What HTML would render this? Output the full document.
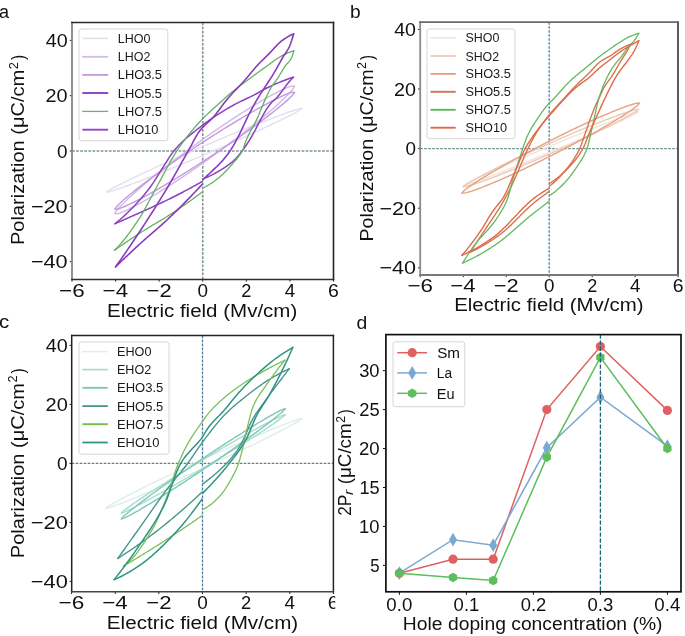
<!DOCTYPE html>
<html><head><meta charset="utf-8"><style>html,body{margin:0;padding:0;background:#fff;overflow:hidden}svg{display:block;filter:blur(0.4px)}text{font-family:"Liberation Sans",sans-serif}</style></head>
<body>
<svg width="685" height="636" viewBox="0 0 685 636" font-family="Liberation Sans, sans-serif">
<rect width="685" height="636" fill="#fff"/>
<line x1="72" y1="151" x2="333.5" y2="151" stroke="#7d9693" stroke-width="1.5" stroke-dasharray="2.7 1.4"/>
<line x1="202.75" y1="22.5" x2="202.75" y2="279.4" stroke="#7d9693" stroke-width="1.6" stroke-dasharray="2.7 1.4"/>
<polyline points="106.44,192.2 108.92,190.4 111.39,188.97 113.87,187.62 116.35,186.31 118.82,185.03 121.3,183.77 123.78,182.53 126.25,181.3 128.73,180.09 131.21,178.88 133.68,177.69 136.16,176.5 138.64,175.32 141.11,174.15 143.59,172.99 146.07,171.83 148.55,170.67 151.02,169.53 153.5,168.38 155.98,167.25 158.45,166.11 160.93,164.99 163.41,163.86 165.88,162.74 168.36,161.63 170.84,160.52 173.31,159.41 175.79,158.31 178.27,157.21 180.74,156.11 183.22,155.02 185.7,153.93 188.18,152.85 190.65,151.77 193.13,150.69 195.61,149.62 198.08,148.55 200.56,147.48 203.04,146.42 205.51,145.35 207.99,144.3 210.47,143.24 212.94,142.19 215.42,141.15 217.9,140.1 220.38,139.06 222.85,138.03 225.33,136.99 227.81,135.97 230.28,134.94 232.76,133.92 235.24,132.9 237.71,131.89 240.19,130.88 242.67,129.87 245.14,128.87 247.62,127.87 250.1,126.88 252.57,125.89 255.05,124.9 257.53,123.92 260.01,122.95 262.48,121.98 264.96,121.02 267.44,120.06 269.91,119.12 272.39,118.17 274.87,117.24 277.34,116.31 279.82,115.4 282.3,114.49 284.77,113.6 287.25,112.72 289.73,111.86 292.2,111.02 294.68,110.21 297.16,109.44 299.64,108.75 302.11,108.42" fill="none" stroke="#e6deef" stroke-width="1.4" stroke-linejoin="round" stroke-linecap="round"/>
<polyline points="106.44,192.2 108.92,191.87 111.39,191.18 113.87,190.41 116.35,189.6 118.82,188.76 121.3,187.9 123.78,187.02 126.25,186.13 128.73,185.22 131.21,184.3 133.68,183.38 136.16,182.44 138.64,181.5 141.11,180.55 143.59,179.6 146.07,178.63 148.55,177.67 151.02,176.69 153.5,175.71 155.98,174.73 158.45,173.74 160.93,172.75 163.41,171.75 165.88,170.75 168.36,169.74 170.84,168.73 173.31,167.72 175.79,166.7 178.27,165.68 180.74,164.65 183.22,163.62 185.7,162.59 188.18,161.55 190.65,160.51 193.13,159.47 195.61,158.42 198.08,157.37 200.56,156.32 203.04,155.26 205.51,154.2 207.99,153.14 210.47,152.07 212.94,151 215.42,149.93 217.9,148.85 220.38,147.77 222.85,146.68 225.33,145.59 227.81,144.5 230.28,143.41 232.76,142.31 235.24,141.21 237.71,140.1 240.19,138.99 242.67,137.87 245.14,136.75 247.62,135.63 250.1,134.5 252.57,133.37 255.05,132.23 257.53,131.09 260.01,129.94 262.48,128.79 264.96,127.63 267.44,126.47 269.91,125.3 272.39,124.12 274.87,122.93 277.34,121.74 279.82,120.53 282.3,119.32 284.77,118.09 287.25,116.85 289.73,115.59 292.2,114.31 294.68,113 297.16,111.64 299.64,110.21 302.11,108.42" fill="none" stroke="#e6deef" stroke-width="1.4" stroke-linejoin="round" stroke-linecap="round"/>
<polyline points="114.94,213.49 117.21,209.91 119.48,207.31 121.75,204.91 124.03,202.63 126.3,200.43 128.57,198.28 130.85,196.18 133.12,194.12 135.39,192.1 137.66,190.1 139.94,188.13 142.21,186.18 144.48,184.25 146.76,182.35 149.03,180.45 151.3,178.58 153.57,176.72 155.85,174.88 158.12,173.05 160.39,171.23 162.66,169.43 164.94,167.64 167.21,165.86 169.48,164.09 171.76,162.34 174.03,160.59 176.3,158.86 178.57,157.13 180.85,155.42 183.12,153.72 185.39,152.02 187.67,150.34 189.94,148.66 192.21,147 194.48,145.34 196.76,143.7 199.03,142.06 201.3,140.43 203.57,138.81 205.85,137.2 208.12,135.6 210.39,134.01 212.67,132.43 214.94,130.85 217.21,129.29 219.48,127.73 221.76,126.19 224.03,124.65 226.3,123.13 228.58,121.61 230.85,120.1 233.12,118.61 235.39,117.12 237.67,115.65 239.94,114.18 242.21,112.73 244.48,111.29 246.76,109.86 249.03,108.44 251.3,107.04 253.58,105.65 255.85,104.27 258.12,102.91 260.39,101.56 262.67,100.24 264.94,98.92 267.21,97.63 269.49,96.36 271.76,95.11 274.03,93.89 276.3,92.69 278.58,91.53 280.85,90.41 283.12,89.34 285.39,88.32 287.67,87.38 289.94,86.56 292.21,85.94 294.49,86.3" fill="none" stroke="#d2b8e6" stroke-width="1.4" stroke-linejoin="round" stroke-linecap="round"/>
<polyline points="114.94,213.49 117.21,213.85 119.48,213.23 121.75,212.41 124.03,211.47 126.3,210.45 128.57,209.38 130.85,208.25 133.12,207.09 135.39,205.9 137.66,204.68 139.94,203.43 142.21,202.16 144.48,200.86 146.76,199.55 149.03,198.22 151.3,196.88 153.57,195.52 155.85,194.14 158.12,192.75 160.39,191.34 162.66,189.93 164.94,188.5 167.21,187.06 169.48,185.6 171.76,184.14 174.03,182.66 176.3,181.18 178.57,179.68 180.85,178.18 183.12,176.66 185.39,175.14 187.67,173.6 189.94,172.05 192.21,170.5 194.48,168.94 196.76,167.36 199.03,165.78 201.3,164.19 203.57,162.59 205.85,160.98 208.12,159.36 210.39,157.73 212.67,156.09 214.94,154.45 217.21,152.79 219.48,151.12 221.76,149.45 224.03,147.77 226.3,146.07 228.58,144.37 230.85,142.65 233.12,140.93 235.39,139.19 237.67,137.45 239.94,135.69 242.21,133.93 244.48,132.15 246.76,130.36 249.03,128.55 251.3,126.74 253.58,124.91 255.85,123.07 258.12,121.21 260.39,119.33 262.67,117.44 264.94,115.53 267.21,113.61 269.49,111.66 271.76,109.69 274.03,107.69 276.3,105.66 278.58,103.6 280.85,101.51 283.12,99.36 285.39,97.16 287.67,94.88 289.94,92.48 292.21,89.88 294.49,86.3" fill="none" stroke="#d2b8e6" stroke-width="1.4" stroke-linejoin="round" stroke-linecap="round"/>
<polyline points="114.94,209.06 117.21,205.98 119.48,203.7 121.75,201.58 124.03,199.56 126.3,197.6 128.57,195.69 130.85,193.81 133.12,191.97 135.39,190.16 137.66,188.36 139.94,186.59 142.21,184.84 144.48,183.1 146.76,181.38 149.03,179.68 151.3,177.99 153.57,176.31 155.85,174.64 158.12,172.99 160.39,171.34 162.66,169.71 164.94,168.08 167.21,166.47 169.48,164.86 171.76,163.27 174.03,161.68 176.3,160.1 178.57,158.53 180.85,156.97 183.12,155.42 185.39,153.87 187.67,152.33 189.94,150.8 192.21,149.28 194.48,147.77 196.76,146.26 199.03,144.76 201.3,143.27 203.57,141.79 205.85,140.31 208.12,138.84 210.39,137.38 212.67,135.92 214.94,134.48 217.21,133.04 219.48,131.6 221.76,130.18 224.03,128.76 226.3,127.35 228.58,125.95 230.85,124.56 233.12,123.18 235.39,121.8 237.67,120.43 239.94,119.08 242.21,117.73 244.48,116.39 246.76,115.06 249.03,113.74 251.3,112.43 253.58,111.13 255.85,109.84 258.12,108.57 260.39,107.31 262.67,106.06 264.94,104.82 267.21,103.6 269.49,102.4 271.76,101.22 274.03,100.06 276.3,98.92 278.58,97.81 280.85,96.73 283.12,95.69 285.39,94.69 287.67,93.76 289.94,92.92 292.21,92.26 294.49,92.38" fill="none" stroke="#c39ade" stroke-width="1.4" stroke-linejoin="round" stroke-linecap="round"/>
<polyline points="114.94,209.06 117.21,209.19 119.48,208.52 121.75,207.69 124.03,206.76 126.3,205.76 128.57,204.72 130.85,203.64 133.12,202.53 135.39,201.39 137.66,200.23 139.94,199.04 142.21,197.84 144.48,196.62 146.76,195.39 149.03,194.14 151.3,192.88 153.57,191.6 155.85,190.32 158.12,189.02 160.39,187.71 162.66,186.39 164.94,185.06 167.21,183.72 169.48,182.37 171.76,181.01 174.03,179.65 176.3,178.27 178.57,176.89 180.85,175.49 183.12,174.09 185.39,172.68 187.67,171.27 189.94,169.84 192.21,168.41 194.48,166.97 196.76,165.52 199.03,164.07 201.3,162.61 203.57,161.14 205.85,159.66 208.12,158.18 210.39,156.69 212.67,155.19 214.94,153.68 217.21,152.16 219.48,150.64 221.76,149.11 224.03,147.58 226.3,146.03 228.58,144.48 230.85,142.91 233.12,141.34 235.39,139.77 237.67,138.18 239.94,136.58 242.21,134.98 244.48,133.36 246.76,131.74 249.03,130.11 251.3,128.46 253.58,126.81 255.85,125.14 258.12,123.46 260.39,121.77 262.67,120.06 264.94,118.34 267.21,116.61 269.49,114.85 271.76,113.08 274.03,111.29 276.3,109.48 278.58,107.63 280.85,105.76 283.12,103.85 285.39,101.89 287.67,99.87 289.94,97.75 292.21,95.46 294.49,92.38" fill="none" stroke="#c39ade" stroke-width="1.4" stroke-linejoin="round" stroke-linecap="round"/>
<polyline points="114.94,223.72 116.94,222.14 118.95,220.48 120.95,218.77 122.96,216.99 124.96,215.15 126.97,213.26 128.97,211.31 130.98,209.31 132.98,207.27 134.99,205.19 136.99,203.05 139,200.84 141,198.56 143.01,196.21 145.01,193.78 147.02,191.27 149.02,188.67 151.03,185.99 153.03,183.17 155.04,180.12 157.04,176.92 159.05,173.65 161.06,170.38 163.06,167.2 165.07,164.09 167.07,160.88 169.08,157.69 171.08,154.63 173.09,151.82 175.09,149.38 177.1,147.15 179.1,145.03 181.11,143.03 183.11,141.12 185.12,139.29 187.12,137.53 189.13,135.84 191.13,134.19 193.14,132.57 195.14,130.98 197.15,129.4 199.15,127.82 201.16,126.25 203.16,124.7 205.17,123.2 207.17,121.73 209.18,120.29 211.18,118.89 213.19,117.52 215.19,116.18 217.2,114.86 219.21,113.57 221.21,112.31 223.22,111.07 225.22,109.85 227.23,108.67 229.23,107.51 231.24,106.37 233.24,105.27 235.25,104.19 237.25,103.16 239.26,102.15 241.26,101.17 243.27,100.2 245.27,99.24 247.28,98.27 249.28,97.31 251.29,96.33 253.29,95.33 255.3,94.3 257.3,93.23 259.31,92.11 261.31,90.97 263.32,89.85 265.32,88.75 267.33,87.72 269.33,86.77 271.34,85.84 273.34,84.93 275.35,84.04 277.36,83.17 279.36,82.33 281.37,81.5 283.37,80.71 285.38,79.94 287.38,79.2 289.39,78.49 291.39,77.81 293.4,77.17" fill="none" stroke="#8c40c0" stroke-width="1.5" stroke-linejoin="round" stroke-linecap="round"/>
<polyline points="114.94,223.72 115.92,223.29 116.9,222.86 117.88,222.43 118.86,222 119.85,221.57 120.83,221.14 121.81,220.71 122.79,220.28 123.77,219.85 124.75,219.41 125.74,218.98 126.72,218.55 127.7,218.11 128.68,217.68 129.66,217.24 130.64,216.8 131.63,216.37 132.61,215.93 133.59,215.49 134.57,215.06 135.55,214.62 136.54,214.18 137.52,213.74 138.5,213.3 139.48,212.87 140.46,212.43 141.44,211.99 142.43,211.55 143.41,211.12 144.39,210.68 145.37,210.24 146.35,209.8 147.33,209.35 148.32,208.91 149.3,208.47 150.28,208.02 151.26,207.57 152.24,207.12 153.23,206.67 154.21,206.22 155.19,205.76 156.17,205.3 157.15,204.84 158.13,204.38 159.12,203.92 160.1,203.45 161.08,202.98 162.06,202.52 163.04,202.05 164.03,201.57 165.01,201.1 165.99,200.63 166.97,200.15 167.95,199.67 168.93,199.19 169.92,198.71 170.9,198.22 171.88,197.74 172.86,197.25 173.84,196.76 174.82,196.26 175.81,195.77 176.79,195.27 177.77,194.77 178.75,194.26 179.73,193.75 180.72,193.24 181.7,192.73 182.68,192.22 183.66,191.7 184.64,191.18 185.62,190.66 186.61,190.13 187.59,189.61 188.57,189.08 189.55,188.55 190.53,188.01 191.51,187.47 192.5,186.94 193.48,186.39 194.46,185.85 195.44,185.3 196.42,184.76 197.41,184.2 198.39,183.65 199.37,183.1 200.35,182.54 201.33,181.98 202.31,181.41" fill="none" stroke="#8c40c0" stroke-width="1.5" stroke-linejoin="round" stroke-linecap="round"/>
<polyline points="203.4,178.65 204.41,178.27 205.43,177.88 206.44,177.46 207.45,177.03 208.46,176.58 209.47,176.11 210.48,175.62 211.49,175.12 212.5,174.61 213.52,174.08 214.53,173.54 215.54,172.98 216.55,172.41 217.56,171.84 218.57,171.25 219.58,170.65 220.59,170.04 221.6,169.43 222.62,168.8 223.63,168.17 224.64,167.53 225.65,166.86 226.66,166.17 227.67,165.46 228.68,164.73 229.69,163.96 230.7,163.17 231.72,162.35 232.73,161.49 233.74,160.6 234.75,159.67 235.76,158.68 236.77,157.61 237.78,156.48 238.79,155.29 239.81,154.05 240.82,152.78 241.83,151.47 242.84,150.14 243.85,148.74 244.86,147.27 245.87,145.76 246.88,144.22 247.89,142.64 248.91,141.04 249.92,139.43 250.93,137.76 251.94,136.02 252.95,134.22 253.96,132.37 254.97,130.48 255.98,128.57 256.99,126.63 258.01,124.68 259.02,122.73 260.03,120.8 261.04,118.88 262.05,116.99 263.06,115.15 264.07,113.35 265.08,111.62 266.1,109.95 267.11,108.37 268.12,106.88 269.13,105.48 270.14,104.2 271.15,103.05 272.16,102.01 273.17,101.05 274.18,100.12 275.2,99.19 276.21,98.21 277.22,97.14 278.23,95.98 279.24,94.74 280.25,93.44 281.26,92.1 282.27,90.74 283.28,89.35 284.3,87.97 285.31,86.61 286.32,85.28 287.33,83.99 288.34,82.76 289.35,81.58 290.36,80.44 291.37,79.33 292.39,78.24 293.4,77.17" fill="none" stroke="#8c40c0" stroke-width="1.5" stroke-linejoin="round" stroke-linecap="round"/>
<polyline points="114.5,250.26 116.52,248.24 118.53,246.11 120.55,243.85 122.56,241.5 124.58,239.04 126.59,236.48 128.61,233.84 130.62,231.11 132.64,228.31 134.65,225.43 136.67,222.49 138.68,219.48 140.7,216.28 142.71,212.87 144.72,209.29 146.74,205.59 148.75,201.81 150.77,197.98 152.78,194.16 154.8,190.39 156.81,186.71 158.83,183.06 160.84,179.32 162.86,175.54 164.87,171.75 166.89,167.98 168.9,164.26 170.92,160.64 172.93,157.14 174.95,153.8 176.96,150.65 178.98,147.7 180.99,144.83 183.01,142.06 185.02,139.37 187.04,136.76 189.05,134.22 191.07,131.76 193.08,129.36 195.1,127.03 197.11,124.76 199.13,122.54 201.14,120.39 203.16,118.31 205.17,116.3 207.19,114.35 209.2,112.46 211.22,110.6 213.23,108.77 215.25,106.96 217.26,105.16 219.28,103.35 221.29,101.53 223.31,99.69 225.32,97.85 227.34,96.05 229.35,94.3 231.37,92.62 233.38,90.98 235.4,89.38 237.41,87.8 239.43,86.25 241.44,84.72 243.46,83.2 245.47,81.68 247.49,80.16 249.5,78.65 251.52,77.15 253.53,75.66 255.55,74.18 257.56,72.71 259.58,71.25 261.59,69.8 263.61,68.36 265.62,66.93 267.64,65.49 269.65,64.01 271.67,62.51 273.68,61.02 275.7,59.58 277.71,58.21 279.73,56.95 281.74,55.82 283.76,54.8 285.77,53.82 287.79,52.91 289.8,52.07 291.82,51.31 293.83,50.63" fill="none" stroke="#66b066" stroke-width="1.3" stroke-linejoin="round" stroke-linecap="round"/>
<polyline points="114.5,250.26 115.49,249.56 116.47,248.86 117.46,248.16 118.45,247.47 119.43,246.78 120.42,246.09 121.41,245.41 122.39,244.73 123.38,244.05 124.37,243.38 125.35,242.7 126.34,242.03 127.33,241.37 128.31,240.7 129.3,240.04 130.29,239.39 131.27,238.73 132.26,238.08 133.25,237.43 134.23,236.78 135.22,236.14 136.21,235.49 137.19,234.85 138.18,234.22 139.17,233.58 140.15,232.95 141.14,232.32 142.13,231.69 143.11,231.06 144.1,230.44 145.09,229.82 146.07,229.2 147.06,228.58 148.05,227.96 149.03,227.35 150.02,226.74 151.01,226.13 151.99,225.52 152.98,224.93 153.97,224.35 154.95,223.77 155.94,223.2 156.93,222.64 157.91,222.07 158.9,221.51 159.89,220.93 160.87,220.36 161.86,219.77 162.85,219.17 163.83,218.55 164.82,217.93 165.81,217.31 166.79,216.68 167.78,216.05 168.77,215.42 169.75,214.78 170.74,214.15 171.73,213.51 172.71,212.86 173.7,212.22 174.69,211.57 175.67,210.91 176.66,210.26 177.65,209.6 178.63,208.94 179.62,208.27 180.61,207.6 181.59,206.93 182.58,206.25 183.57,205.57 184.55,204.89 185.54,204.2 186.53,203.51 187.51,202.82 188.5,202.12 189.49,201.42 190.47,200.71 191.46,200.01 192.45,199.29 193.43,198.57 194.42,197.85 195.41,197.13 196.39,196.4 197.38,195.66 198.37,194.92 199.35,194.18 200.34,193.43 201.33,192.68 202.31,191.92" fill="none" stroke="#66b066" stroke-width="1.3" stroke-linejoin="round" stroke-linecap="round"/>
<polyline points="204.06,187.5 205.07,186.99 206.07,186.46 207.08,185.9 208.09,185.31 209.1,184.7 210.11,184.06 211.12,183.4 212.13,182.71 213.14,182.01 214.14,181.28 215.15,180.54 216.16,179.78 217.17,179 218.18,178.2 219.19,177.39 220.2,176.54 221.21,175.65 222.21,174.73 223.22,173.78 224.23,172.8 225.24,171.79 226.25,170.75 227.26,169.68 228.27,168.6 229.28,167.49 230.28,166.37 231.29,165.22 232.3,164.07 233.31,162.91 234.32,161.77 235.33,160.63 236.34,159.47 237.34,158.26 238.35,156.98 239.36,155.59 240.37,154.09 241.38,152.44 242.39,150.61 243.4,148.18 244.41,145.28 245.41,142.32 246.42,139.72 247.43,137.47 248.44,135.35 249.45,133.33 250.46,131.4 251.47,129.51 252.48,127.65 253.48,125.79 254.49,123.89 255.5,121.93 256.51,119.89 257.52,117.73 258.53,115.44 259.54,113.05 260.54,110.59 261.55,108.11 262.56,105.64 263.57,103.21 264.58,100.87 265.59,98.64 266.6,96.45 267.61,94.29 268.61,92.21 269.62,90.24 270.63,88.41 271.64,86.75 272.65,85.22 273.66,83.78 274.67,82.39 275.68,81.02 276.68,79.63 277.69,78.18 278.7,76.64 279.71,75 280.72,73.28 281.73,71.54 282.74,69.82 283.75,68.16 284.75,66.6 285.76,65.23 286.77,64.05 287.78,62.96 288.79,61.84 289.8,60.59 290.81,59.08 291.81,57.2 292.82,54.26 293.83,50.63" fill="none" stroke="#66b066" stroke-width="1.3" stroke-linejoin="round" stroke-linecap="round"/>
<polyline points="115.59,266.85 117.59,264.04 119.59,261.21 121.59,258.36 123.59,255.48 125.59,252.59 127.59,249.67 129.59,246.73 131.59,243.77 133.59,240.8 135.59,237.8 137.59,234.79 139.59,231.77 141.59,228.72 143.59,225.66 145.59,222.58 147.59,219.49 149.59,216.38 151.59,213.25 153.6,210.09 155.6,206.9 157.6,203.7 159.6,200.46 161.6,197.2 163.6,193.91 165.6,190.59 167.6,187.24 169.6,183.86 171.6,180.42 173.6,176.93 175.6,173.4 177.6,169.84 179.6,166.27 181.6,162.69 183.6,159.11 185.6,155.55 187.6,152.01 189.6,148.48 191.6,144.77 193.6,140.98 195.6,137.3 197.6,133.9 199.6,130.95 201.6,128.52 203.6,126.41 205.6,124.51 207.6,122.71 209.6,120.91 211.6,118.98 213.6,116.82 215.6,114.42 217.6,111.85 219.6,109.18 221.6,106.47 223.6,103.78 225.61,101.17 227.61,98.72 229.61,96.42 231.61,94.21 233.61,92.07 235.61,89.97 237.61,87.88 239.61,85.8 241.61,83.68 243.61,81.52 245.61,79.27 247.61,76.93 249.61,74.51 251.61,72.07 253.61,69.66 255.61,67.32 257.61,65.11 259.61,63.02 261.61,61.01 263.61,59.06 265.61,57.12 267.61,55.17 269.61,53.14 271.61,50.99 273.61,48.78 275.61,46.6 277.61,44.51 279.61,42.61 281.61,40.97 283.61,39.52 285.61,38.16 287.61,36.9 289.61,35.76 291.61,34.75 293.61,33.9" fill="none" stroke="#8a3abf" stroke-width="1.6" stroke-linejoin="round" stroke-linecap="round"/>
<polyline points="115.59,266.85 116.56,265.91 117.54,264.97 118.51,264.02 119.49,263.09 120.46,262.15 121.44,261.22 122.41,260.28 123.39,259.35 124.36,258.43 125.33,257.5 126.31,256.58 127.28,255.65 128.26,254.74 129.23,253.82 130.21,252.9 131.18,251.99 132.16,251.08 133.13,250.17 134.1,249.27 135.08,248.36 136.05,247.46 137.03,246.56 138,245.66 138.98,244.77 139.95,243.88 140.93,242.99 141.9,242.1 142.87,241.22 143.85,240.34 144.82,239.47 145.8,238.61 146.77,237.76 147.75,236.91 148.72,236.06 149.7,235.21 150.67,234.37 151.64,233.53 152.62,232.69 153.59,231.86 154.57,231.02 155.54,230.18 156.52,229.33 157.49,228.49 158.46,227.64 159.44,226.78 160.41,225.93 161.39,225.06 162.36,224.19 163.34,223.31 164.31,222.43 165.29,221.53 166.26,220.63 167.23,219.71 168.21,218.79 169.18,217.87 170.16,216.95 171.13,216.02 172.11,215.08 173.08,214.14 174.06,213.2 175.03,212.26 176,211.31 176.98,210.35 177.95,209.4 178.93,208.44 179.9,207.47 180.88,206.5 181.85,205.53 182.83,204.56 183.8,203.57 184.77,202.59 185.75,201.6 186.72,200.61 187.7,199.61 188.67,198.61 189.65,197.61 190.62,196.6 191.6,195.59 192.57,194.57 193.54,193.55 194.52,192.53 195.49,191.5 196.47,190.46 197.44,189.43 198.42,188.39 199.39,187.34 200.37,186.29 201.34,185.24 202.31,184.18" fill="none" stroke="#8a3abf" stroke-width="1.6" stroke-linejoin="round" stroke-linecap="round"/>
<polyline points="203.4,179.2 204.42,178.26 205.43,177.31 206.44,176.37 207.46,175.41 208.47,174.45 209.49,173.49 210.5,172.52 211.51,171.55 212.53,170.6 213.54,169.65 214.55,168.7 215.57,167.75 216.58,166.79 217.59,165.81 218.61,164.81 219.62,163.78 220.63,162.72 221.65,161.61 222.66,160.46 223.68,159.28 224.69,158.06 225.7,156.81 226.72,155.51 227.73,154.17 228.74,152.78 229.76,151.33 230.77,149.83 231.78,148.23 232.8,146.56 233.81,144.82 234.83,143.02 235.84,141.19 236.85,139.33 237.87,137.4 238.88,135.4 239.89,133.34 240.91,131.23 241.92,129.08 242.93,126.92 243.95,124.75 244.96,122.58 245.97,120.44 246.99,118.32 248,116.25 249.02,114.24 250.03,112.3 251.04,110.39 252.06,108.5 253.07,106.63 254.08,104.79 255.1,102.98 256.11,101.2 257.12,99.46 258.14,97.74 259.15,96.06 260.17,94.44 261.18,92.85 262.19,91.29 263.21,89.75 264.22,88.22 265.23,86.68 266.25,85.12 267.26,83.55 268.27,82 269.29,80.45 270.3,78.9 271.32,77.33 272.33,75.74 273.34,74.11 274.36,72.44 275.37,70.7 276.38,68.91 277.4,67.09 278.41,65.24 279.42,63.39 280.44,61.56 281.45,59.74 282.46,57.98 283.48,56.3 284.49,54.77 285.51,53.29 286.52,51.78 287.53,50.17 288.55,48.37 289.56,46.29 290.57,43.77 291.59,40.78 292.6,37.45 293.61,33.9" fill="none" stroke="#8a3abf" stroke-width="1.6" stroke-linejoin="round" stroke-linecap="round"/>
<line x1="72.01" y1="279.4" x2="72.01" y2="281.6" stroke="#222" stroke-width="1"/>
<text x="59.1" y="296.9" font-size="19.03" textLength="25.6" lengthAdjust="spacingAndGlyphs" fill="#111">−6</text>
<line x1="115.59" y1="279.4" x2="115.59" y2="281.6" stroke="#222" stroke-width="1"/>
<text x="102.64" y="296.9" font-size="19.04" textLength="25.46" lengthAdjust="spacingAndGlyphs" fill="#111">−4</text>
<line x1="159.17" y1="279.4" x2="159.17" y2="281.6" stroke="#222" stroke-width="1"/>
<text x="146.64" y="296.9" font-size="19.03" textLength="25.06" lengthAdjust="spacingAndGlyphs" fill="#111">−2</text>
<line x1="202.75" y1="279.4" x2="202.75" y2="281.6" stroke="#222" stroke-width="1"/>
<text x="197.45" y="296.9" font-size="19.03" textLength="10.53" lengthAdjust="spacingAndGlyphs" fill="#111">0</text>
<line x1="246.33" y1="279.4" x2="246.33" y2="281.6" stroke="#222" stroke-width="1"/>
<text x="241.28" y="296.9" font-size="19.03" textLength="10.12" lengthAdjust="spacingAndGlyphs" fill="#111">2</text>
<line x1="289.91" y1="279.4" x2="289.91" y2="281.6" stroke="#222" stroke-width="1"/>
<text x="284.76" y="296.9" font-size="19.04" textLength="10.51" lengthAdjust="spacingAndGlyphs" fill="#111">4</text>
<line x1="333.49" y1="279.4" x2="333.49" y2="281.6" stroke="#222" stroke-width="1"/>
<text x="327.97" y="296.9" font-size="19.03" textLength="10.87" lengthAdjust="spacingAndGlyphs" fill="#111">6</text>
<line x1="69.8" y1="40.4" x2="72" y2="40.4" stroke="#222" stroke-width="1"/>
<text x="45.72" y="47.06" font-size="19.03" textLength="21.92" lengthAdjust="spacingAndGlyphs" fill="#111">40</text>
<line x1="69.8" y1="95.7" x2="72" y2="95.7" stroke="#222" stroke-width="1"/>
<text x="45.57" y="102.36" font-size="19.03" textLength="22.07" lengthAdjust="spacingAndGlyphs" fill="#111">20</text>
<line x1="69.8" y1="151" x2="72" y2="151" stroke="#222" stroke-width="1"/>
<text x="57.05" y="157.66" font-size="19.03" textLength="10.53" lengthAdjust="spacingAndGlyphs" fill="#111">0</text>
<line x1="69.8" y1="206.3" x2="72" y2="206.3" stroke="#222" stroke-width="1"/>
<text x="30.9" y="212.96" font-size="19.03" textLength="36.79" lengthAdjust="spacingAndGlyphs" fill="#111">−20</text>
<line x1="69.8" y1="261.6" x2="72" y2="261.6" stroke="#222" stroke-width="1"/>
<text x="30.9" y="268.26" font-size="19.03" textLength="36.79" lengthAdjust="spacingAndGlyphs" fill="#111">−40</text>
<line x1="72" y1="21.7" x2="72" y2="280.15" stroke="#858585" stroke-width="1.8"/>
<line x1="333.5" y1="21.7" x2="333.5" y2="280.15" stroke="#222" stroke-width="1.6"/>
<line x1="71.1" y1="22.5" x2="334.3" y2="22.5" stroke="#2a2a2a" stroke-width="1.6"/>
<line x1="71.1" y1="279.4" x2="334.3" y2="279.4" stroke="#2e2e2e" stroke-width="1.5"/>
<text x="106.96" y="316.6" font-size="18.87" textLength="190.33" lengthAdjust="spacingAndGlyphs" fill="#111">Electric field (Mv/cm)</text>
<g transform="translate(24,243.5) rotate(-90)" fill="#111"><text style="white-space:pre" x="-1.6" y="0" font-size="18.87" textLength="175.39" lengthAdjust="spacingAndGlyphs">Polarization (μC/cm</text><text style="white-space:pre" x="174.33" y="-6.4" font-size="13.32" textLength="7.12" lengthAdjust="spacingAndGlyphs">2</text><text style="white-space:pre" x="183.45" y="0" font-size="18.87" textLength="5.12" lengthAdjust="spacingAndGlyphs">)</text></g>
<rect x="79" y="29" width="88.8" height="111.7" rx="2.5" fill="#fff" fill-opacity="0.85" stroke="#d6d6d6" stroke-width="1"/>
<line x1="82.3" y1="38.4" x2="108.2" y2="38.4" stroke="#e2dee8" stroke-width="1.5"/>
<text x="117.8" y="42.91" font-size="12.9" textLength="32.76" lengthAdjust="spacingAndGlyphs" fill="#1a1a1a">LHO0</text>
<line x1="82.3" y1="56.8" x2="108.2" y2="56.8" stroke="#d2bce4" stroke-width="1.8"/>
<text x="117.8" y="61.31" font-size="12.9" textLength="32.51" lengthAdjust="spacingAndGlyphs" fill="#1a1a1a">LHO2</text>
<line x1="82.3" y1="74.9" x2="108.2" y2="74.9" stroke="#c49ade" stroke-width="1.8"/>
<text x="117.77" y="79.41" font-size="12.9" textLength="44.26" lengthAdjust="spacingAndGlyphs" fill="#1a1a1a">LHO3.5</text>
<line x1="82.3" y1="93" x2="108.2" y2="93" stroke="#8e40c2" stroke-width="1.9"/>
<text x="117.77" y="97.51" font-size="12.9" textLength="44.26" lengthAdjust="spacingAndGlyphs" fill="#1a1a1a">LHO5.5</text>
<line x1="82.3" y1="111.4" x2="108.2" y2="111.4" stroke="#6cb06c" stroke-width="1.3"/>
<text x="117.77" y="115.91" font-size="12.9" textLength="44.26" lengthAdjust="spacingAndGlyphs" fill="#1a1a1a">LHO7.5</text>
<line x1="82.3" y1="129.7" x2="108.2" y2="129.7" stroke="#9444c6" stroke-width="1.9"/>
<text x="117.78" y="134.21" font-size="12.9" textLength="40.56" lengthAdjust="spacingAndGlyphs" fill="#1a1a1a">LHO10</text>
<line x1="420.2" y1="148.6" x2="678" y2="148.6" stroke="#6a9090" stroke-width="1.4" stroke-dasharray="2.6 1.4"/>
<line x1="549.2" y1="22.2" x2="549.2" y2="275" stroke="#5585a8" stroke-width="1.4" stroke-dasharray="2.6 1.4"/>
<polyline points="463.24,185.85 465.45,184.42 467.67,183.24 469.88,182.1 472.1,181 474.31,179.92 476.53,178.85 478.74,177.79 480.95,176.74 483.17,175.7 485.38,174.67 487.6,173.64 489.81,172.62 492.03,171.61 494.24,170.6 496.45,169.59 498.67,168.59 500.88,167.59 503.1,166.6 505.31,165.61 507.53,164.62 509.74,163.64 511.95,162.66 514.17,161.68 516.38,160.7 518.6,159.73 520.81,158.76 523.03,157.79 525.24,156.83 527.45,155.87 529.67,154.91 531.88,153.95 534.1,153 536.31,152.05 538.53,151.1 540.74,150.15 542.95,149.21 545.17,148.26 547.38,147.32 549.6,146.39 551.81,145.45 554.03,144.52 556.24,143.59 558.45,142.66 560.67,141.73 562.88,140.81 565.1,139.89 567.31,138.97 569.53,138.05 571.74,137.14 573.95,136.22 576.17,135.31 578.38,134.41 580.6,133.5 582.81,132.6 585.03,131.7 587.24,130.81 589.45,129.91 591.67,129.02 593.88,128.14 596.1,127.25 598.31,126.37 600.53,125.49 602.74,124.62 604.95,123.75 607.17,122.89 609.38,122.03 611.6,121.17 613.81,120.32 616.03,119.47 618.24,118.64 620.45,117.8 622.67,116.98 624.88,116.17 627.1,115.37 629.31,114.58 631.53,113.81 633.74,113.07 635.95,112.39 638.17,111.95" fill="none" stroke="#f2e4da" stroke-width="1.4" stroke-linejoin="round" stroke-linecap="round"/>
<polyline points="463.24,185.85 465.45,185.41 467.67,184.72 469.88,183.98 472.1,183.22 474.31,182.43 476.53,181.63 478.74,180.81 480.95,179.99 483.17,179.16 485.38,178.32 487.6,177.48 489.81,176.63 492.03,175.77 494.24,174.91 496.45,174.04 498.67,173.17 500.88,172.3 503.1,171.42 505.31,170.54 507.53,169.66 509.74,168.77 511.95,167.88 514.17,166.99 516.38,166.09 518.6,165.19 520.81,164.29 523.03,163.39 525.24,162.48 527.45,161.57 529.67,160.66 531.88,159.75 534.1,158.83 536.31,157.91 538.53,156.99 540.74,156.06 542.95,155.14 545.17,154.21 547.38,153.28 549.6,152.35 551.81,151.41 554.03,150.47 556.24,149.53 558.45,148.59 560.67,147.65 562.88,146.7 565.1,145.75 567.31,144.8 569.53,143.84 571.74,142.89 573.95,141.93 576.17,140.97 578.38,140 580.6,139.03 582.81,138.07 585.03,137.09 587.24,136.12 589.45,135.14 591.67,134.16 593.88,133.18 596.1,132.19 598.31,131.2 600.53,130.2 602.74,129.21 604.95,128.21 607.17,127.2 609.38,126.19 611.6,125.17 613.81,124.15 616.03,123.13 618.24,122.09 620.45,121.06 622.67,120.01 624.88,118.95 627.1,117.88 629.31,116.8 631.53,115.69 633.74,114.56 635.95,113.38 638.17,111.95" fill="none" stroke="#f2e4da" stroke-width="1.4" stroke-linejoin="round" stroke-linecap="round"/>
<polyline points="463.24,186.74 465.45,184.88 467.67,183.45 469.88,182.12 472.1,180.84 474.31,179.6 476.53,178.38 478.74,177.18 480.95,176 483.17,174.84 485.38,173.69 487.6,172.55 489.81,171.42 492.03,170.3 494.24,169.18 496.45,168.08 498.67,166.99 500.88,165.9 503.1,164.81 505.31,163.74 507.53,162.67 509.74,161.6 511.95,160.55 514.17,159.49 516.38,158.44 518.6,157.4 520.81,156.36 523.03,155.33 525.24,154.3 527.45,153.28 529.67,152.26 531.88,151.24 534.1,150.23 536.31,149.23 538.53,148.23 540.74,147.23 542.95,146.23 545.17,145.24 547.38,144.26 549.6,143.28 551.81,142.3 554.03,141.33 556.24,140.36 558.45,139.39 560.67,138.43 562.88,137.48 565.1,136.53 567.31,135.58 569.53,134.64 571.74,133.7 573.95,132.76 576.17,131.83 578.38,130.91 580.6,129.98 582.81,129.07 585.03,128.16 587.24,127.25 589.45,126.35 591.67,125.46 593.88,124.57 596.1,123.68 598.31,122.8 600.53,121.93 602.74,121.07 604.95,120.21 607.17,119.36 609.38,118.52 611.6,117.68 613.81,116.86 616.03,116.04 618.24,115.24 620.45,114.45 622.67,113.68 624.88,112.92 627.1,112.18 629.31,111.48 631.53,110.8 633.74,110.18 635.95,109.65 638.17,109.56" fill="none" stroke="#eccab6" stroke-width="1.4" stroke-linejoin="round" stroke-linecap="round"/>
<polyline points="463.24,186.74 465.45,186.66 467.67,186.13 469.88,185.5 472.1,184.83 474.31,184.12 476.53,183.39 478.74,182.63 480.95,181.85 483.17,181.06 485.38,180.26 487.6,179.45 489.81,178.62 492.03,177.79 494.24,176.95 496.45,176.1 498.67,175.24 500.88,174.37 503.1,173.5 505.31,172.62 507.53,171.74 509.74,170.85 511.95,169.96 514.17,169.05 516.38,168.15 518.6,167.24 520.81,166.32 523.03,165.4 525.24,164.47 527.45,163.54 529.67,162.61 531.88,161.67 534.1,160.73 536.31,159.78 538.53,158.83 540.74,157.87 542.95,156.91 545.17,155.95 547.38,154.98 549.6,154 551.81,153.03 554.03,152.05 556.24,151.06 558.45,150.07 560.67,149.08 562.88,148.08 565.1,147.08 567.31,146.07 569.53,145.06 571.74,144.05 573.95,143.03 576.17,142 578.38,140.98 580.6,139.94 582.81,138.9 585.03,137.86 587.24,136.81 589.45,135.76 591.67,134.7 593.88,133.64 596.1,132.57 598.31,131.49 600.53,130.41 602.74,129.32 604.95,128.22 607.17,127.12 609.38,126.01 611.6,124.89 613.81,123.76 616.03,122.62 618.24,121.47 620.45,120.3 622.67,119.12 624.88,117.93 627.1,116.71 629.31,115.46 631.53,114.18 633.74,112.85 635.95,111.43 638.17,109.56" fill="none" stroke="#eccab6" stroke-width="1.4" stroke-linejoin="round" stroke-linecap="round"/>
<polyline points="461.95,193 464.2,190.58 466.44,188.8 468.69,187.15 470.94,185.58 473.19,184.06 475.43,182.57 477.68,181.12 479.93,179.69 482.17,178.29 484.42,176.9 486.67,175.53 488.91,174.17 491.16,172.83 493.41,171.5 495.65,170.18 497.9,168.87 500.15,167.58 502.4,166.29 504.64,165.01 506.89,163.74 509.14,162.48 511.38,161.23 513.63,159.98 515.88,158.74 518.12,157.51 520.37,156.29 522.62,155.07 524.86,153.86 527.11,152.66 529.36,151.46 531.61,150.27 533.85,149.09 536.1,147.91 538.35,146.74 540.59,145.57 542.84,144.42 545.09,143.26 547.33,142.11 549.58,140.97 551.83,139.84 554.07,138.71 556.32,137.59 558.57,136.47 560.82,135.36 563.06,134.25 565.31,133.15 567.56,132.06 569.8,130.97 572.05,129.89 574.3,128.82 576.54,127.75 578.79,126.69 581.04,125.63 583.28,124.59 585.53,123.55 587.78,122.51 590.03,121.49 592.27,120.47 594.52,119.46 596.77,118.46 599.01,117.47 601.26,116.48 603.51,115.51 605.75,114.55 608,113.59 610.25,112.65 612.49,111.72 614.74,110.81 616.99,109.91 619.24,109.03 621.48,108.16 623.73,107.32 625.98,106.5 628.22,105.71 630.47,104.96 632.72,104.27 634.96,103.64 637.21,103.16 639.46,103.3" fill="none" stroke="#e8a282" stroke-width="1.4" stroke-linejoin="round" stroke-linecap="round"/>
<polyline points="461.95,193 464.2,193.15 466.44,192.66 468.69,192.04 470.94,191.34 473.19,190.59 475.43,189.8 477.68,188.99 479.93,188.14 482.17,187.28 484.42,186.4 486.67,185.5 488.91,184.58 491.16,183.65 493.41,182.71 495.65,181.76 497.9,180.8 500.15,179.82 502.4,178.84 504.64,177.85 506.89,176.85 509.14,175.84 511.38,174.82 513.63,173.79 515.88,172.76 518.12,171.72 520.37,170.67 522.62,169.62 524.86,168.56 527.11,167.49 529.36,166.42 531.61,165.33 533.85,164.25 536.1,163.15 538.35,162.06 540.59,160.95 542.84,159.84 545.09,158.72 547.33,157.6 549.58,156.47 551.83,155.33 554.07,154.19 556.32,153.04 558.57,151.89 560.82,150.73 563.06,149.57 565.31,148.39 567.56,147.22 569.8,146.03 572.05,144.84 574.3,143.65 576.54,142.44 578.79,141.23 581.04,140.02 583.28,138.79 585.53,137.56 587.78,136.32 590.03,135.08 592.27,133.83 594.52,132.56 596.77,131.3 599.01,130.02 601.26,128.73 603.51,127.43 605.75,126.12 608,124.81 610.25,123.48 612.49,122.13 614.74,120.78 616.99,119.41 619.24,118.02 621.48,116.61 623.73,115.18 625.98,113.73 628.22,112.25 630.47,110.73 632.72,109.15 634.96,107.51 637.21,105.72 639.46,103.3" fill="none" stroke="#e8a282" stroke-width="1.4" stroke-linejoin="round" stroke-linecap="round"/>
<polyline points="470.12,252.3 471.92,249.57 473.72,246.84 475.52,244.1 477.32,241.37 479.12,238.65 480.92,235.92 482.73,233.2 484.53,230.47 486.33,227.75 488.13,225.06 489.93,222.41 491.73,219.77 493.53,217.12 495.33,214.41 497.14,211.64 498.94,208.76 500.74,205.79 502.54,202.75 504.34,199.64 506.14,196.43 507.94,193.1 509.75,189.63 511.55,185.98 513.35,182.07 515.15,177.99 516.95,173.83 518.75,169.69 520.55,165.54 522.35,161.28 524.16,157.01 525.96,152.86 527.76,148.95 529.56,145.27 531.36,141.71 533.16,138.31 534.96,135.1 536.76,132.12 538.57,129.31 540.37,126.64 542.17,124.09 543.97,121.63 545.77,119.26 547.57,116.96 549.37,114.71 551.18,112.54 552.98,110.45 554.78,108.43 556.58,106.46 558.38,104.51 560.18,102.57 561.98,100.62 563.78,98.64 565.59,96.65 567.39,94.67 569.19,92.69 570.99,90.74 572.79,88.82 574.59,86.94 576.39,85.12 578.19,83.34 580,81.6 581.8,79.89 583.6,78.19 585.4,76.49 587.2,74.78 589,73.03 590.8,71.23 592.6,69.28 594.41,67.27 596.21,65.3 598.01,63.5 599.81,61.96 601.61,60.71 603.41,59.62 605.21,58.63 607.02,57.69 608.82,56.71 610.62,55.65 612.42,54.46 614.22,53.18 616.02,51.86 617.82,50.58 619.62,49.39 621.43,48.35 623.23,47.41 625.03,46.52 626.83,45.71 628.63,44.96 630.43,44.3" fill="none" stroke="#d4764e" stroke-width="1.4" stroke-linejoin="round" stroke-linecap="round"/>
<polyline points="470.12,252.3 471,251.91 471.88,251.51 472.77,251.09 473.65,250.67 474.54,250.24 475.42,249.8 476.3,249.35 477.19,248.89 478.07,248.43 478.95,247.96 479.84,247.47 480.72,246.98 481.61,246.49 482.49,245.98 483.37,245.47 484.26,244.95 485.14,244.42 486.02,243.88 486.91,243.34 487.79,242.79 488.68,242.23 489.56,241.67 490.44,241.1 491.33,240.52 492.21,239.94 493.09,239.35 493.98,238.75 494.86,238.15 495.75,237.54 496.63,236.93 497.51,236.31 498.4,235.69 499.28,235.05 500.16,234.4 501.05,233.73 501.93,233.03 502.82,232.32 503.7,231.59 504.58,230.83 505.47,230.07 506.35,229.28 507.23,228.49 508.12,227.68 509,226.85 509.89,226.02 510.77,225.17 511.65,224.32 512.54,223.46 513.42,222.59 514.3,221.71 515.19,220.83 516.07,219.94 516.96,219.06 517.84,218.16 518.72,217.27 519.61,216.38 520.49,215.49 521.37,214.6 522.26,213.72 523.14,212.84 524.03,211.96 524.91,211.1 525.79,210.23 526.68,209.38 527.56,208.54 528.44,207.7 529.33,206.88 530.21,206.07 531.1,205.28 531.98,204.5 532.86,203.73 533.75,202.99 534.63,202.26 535.51,201.54 536.4,200.84 537.28,200.15 538.17,199.46 539.05,198.79 539.93,198.12 540.82,197.46 541.7,196.81 542.58,196.16 543.47,195.53 544.35,194.89 545.24,194.27 546.12,193.64 547,193.03 547.89,192.42 548.77,191.81" fill="none" stroke="#d4764e" stroke-width="1.4" stroke-linejoin="round" stroke-linecap="round"/>
<polyline points="549.63,185.85 550.54,185.23 551.45,184.57 552.35,183.87 553.26,183.14 554.17,182.37 555.08,181.56 555.99,180.73 556.89,179.86 557.8,178.96 558.71,178.04 559.62,177.08 560.52,176.11 561.43,175.1 562.34,174.08 563.25,173.03 564.16,171.97 565.06,170.89 565.97,169.78 566.88,168.67 567.79,167.54 568.7,166.39 569.6,165.21 570.51,163.99 571.42,162.74 572.33,161.44 573.23,160.09 574.14,158.69 575.05,157.23 575.96,155.7 576.87,154.11 577.77,152.44 578.68,150.69 579.59,148.86 580.5,146.84 581.41,144.53 582.31,141.99 583.22,139.32 584.13,136.6 585.04,133.9 585.95,131.32 586.85,128.74 587.76,126.13 588.67,123.51 589.58,120.92 590.48,118.36 591.39,115.88 592.3,113.48 593.21,111.13 594.12,108.85 595.02,106.67 595.93,104.59 596.84,102.62 597.75,100.7 598.66,98.8 599.56,96.88 600.47,94.89 601.38,92.87 602.29,90.89 603.2,89.01 604.1,87.33 605.01,85.81 605.92,84.4 606.83,83.08 607.73,81.81 608.64,80.58 609.55,79.36 610.46,78.12 611.37,76.84 612.27,75.49 613.18,74.06 614.09,72.58 615,71.05 615.91,69.49 616.81,67.91 617.72,66.32 618.63,64.74 619.54,63.17 620.45,61.63 621.35,60.13 622.26,58.69 623.17,57.29 624.08,55.9 624.98,54.5 625.89,53.04 626.8,51.5 627.71,49.84 628.62,48.07 629.52,46.22 630.43,44.3" fill="none" stroke="#d4764e" stroke-width="1.4" stroke-linejoin="round" stroke-linecap="round"/>
<polyline points="462.6,263.03 464.58,259.86 466.56,256.76 468.54,253.74 470.52,250.81 472.5,247.98 474.48,245.25 476.46,242.63 478.44,240.18 480.42,237.89 482.4,235.7 484.38,233.57 486.36,231.44 488.34,229.26 490.31,226.96 492.29,224.5 494.27,221.87 496.25,219.14 498.23,216.25 500.21,213.17 502.19,209.84 504.17,206.23 506.15,202.18 508.13,197.21 510.11,190.01 512.09,182.18 514.07,175.53 516.05,169.25 518.03,163.06 520.01,156.88 521.99,150.87 523.97,145.03 525.95,139.38 527.93,134.83 529.91,130.94 531.89,127.44 533.87,124.21 535.85,121.17 537.83,118.21 539.81,115.27 541.79,112.39 543.77,109.63 545.75,107.03 547.73,104.63 549.71,102.49 551.69,100.71 553.67,98.77 555.65,96.68 557.63,94.5 559.61,92.27 561.59,90.02 563.57,87.79 565.55,85.63 567.53,83.56 569.51,81.63 571.49,79.79 573.47,78.01 575.45,76.28 577.43,74.6 579.41,72.94 581.39,71.32 583.37,69.7 585.35,68.09 587.33,66.48 589.31,64.86 591.29,63.22 593.27,61.57 595.25,59.93 597.23,58.33 599.21,56.76 601.19,55.25 603.17,53.79 605.15,52.35 607.13,50.95 609.11,49.56 611.09,48.17 613.07,46.77 615.05,45.38 617.03,44.02 619.01,42.7 620.99,41.44 622.97,40.24 624.95,39.06 626.93,37.95 628.91,36.95 630.89,36.07 632.87,35.26 634.85,34.52 636.83,33.85 638.81,33.27" fill="none" stroke="#64b864" stroke-width="1.3" stroke-linejoin="round" stroke-linecap="round"/>
<polyline points="462.6,263.03 463.56,262.61 464.53,262.18 465.5,261.74 466.47,261.3 467.44,260.85 468.4,260.39 469.37,259.92 470.34,259.44 471.31,258.96 472.28,258.47 473.25,257.98 474.21,257.48 475.18,256.97 476.15,256.45 477.12,255.93 478.09,255.4 479.06,254.86 480.02,254.32 480.99,253.77 481.96,253.21 482.93,252.65 483.9,252.08 484.87,251.5 485.83,250.92 486.8,250.34 487.77,249.74 488.74,249.14 489.71,248.54 490.67,247.93 491.64,247.31 492.61,246.69 493.58,246.05 494.55,245.41 495.52,244.74 496.48,244.06 497.45,243.37 498.42,242.66 499.39,241.94 500.36,241.21 501.33,240.47 502.29,239.71 503.26,238.95 504.23,238.17 505.2,237.39 506.17,236.59 507.14,235.79 508.1,234.99 509.07,234.17 510.04,233.35 511.01,232.52 511.98,231.69 512.94,230.86 513.91,230.02 514.88,229.18 515.85,228.33 516.82,227.49 517.79,226.64 518.75,225.79 519.72,224.94 520.69,224.1 521.66,223.25 522.63,222.41 523.6,221.57 524.56,220.73 525.53,219.9 526.5,219.07 527.47,218.25 528.44,217.43 529.41,216.62 530.37,215.81 531.34,215.02 532.31,214.23 533.28,213.45 534.25,212.68 535.21,211.92 536.18,211.17 537.15,210.42 538.12,209.67 539.09,208.93 540.06,208.19 541.02,207.45 541.99,206.72 542.96,205.99 543.93,205.26 544.9,204.53 545.87,203.81 546.83,203.09 547.8,202.36 548.77,201.64" fill="none" stroke="#64b864" stroke-width="1.3" stroke-linejoin="round" stroke-linecap="round"/>
<polyline points="549.63,195.39 550.63,194.78 551.63,194.12 552.64,193.43 553.64,192.7 554.64,191.94 555.64,191.14 556.64,190.31 557.65,189.45 558.65,188.57 559.65,187.65 560.65,186.71 561.65,185.75 562.66,184.77 563.66,183.76 564.66,182.74 565.66,181.67 566.66,180.54 567.67,179.37 568.67,178.16 569.67,176.9 570.67,175.6 571.68,174.26 572.68,172.88 573.68,171.47 574.68,170.03 575.68,168.56 576.69,167.07 577.69,165.6 578.69,164.15 579.69,162.69 580.69,161.17 581.7,159.58 582.7,157.89 583.7,156.05 584.7,154.05 585.7,151.85 586.71,149.42 587.71,146.5 588.71,142.61 589.71,138.15 590.71,133.61 591.72,129.3 592.72,124.94 593.72,120.51 594.72,116.04 595.72,111.46 596.73,106.78 597.73,102.63 598.73,98.99 599.73,95.68 600.73,92.69 601.74,89.94 602.74,87.32 603.74,84.83 604.74,82.47 605.75,80.22 606.75,78.09 607.75,76.06 608.75,74.14 609.75,72.31 610.76,70.59 611.76,68.96 612.76,67.41 613.76,65.94 614.76,64.55 615.77,63.27 616.77,62.06 617.77,60.9 618.77,59.74 619.77,58.57 620.78,57.35 621.78,56.04 622.78,54.65 623.78,53.21 624.78,51.75 625.79,50.31 626.79,48.91 627.79,47.59 628.79,46.39 629.79,45.31 630.8,44.3 631.8,43.3 632.8,42.24 633.8,41.08 634.81,39.76 635.81,38.3 636.81,36.72 637.81,35.04 638.81,33.27" fill="none" stroke="#64b864" stroke-width="1.3" stroke-linejoin="round" stroke-linecap="round"/>
<polyline points="461.95,255.28 463.94,253 465.93,250.62 467.91,248.17 469.9,245.64 471.89,243.03 473.87,240.36 475.86,237.63 477.85,234.84 479.84,232 481.82,229.03 483.81,225.86 485.8,222.56 487.78,219.23 489.77,215.96 491.76,212.85 493.75,209.99 495.73,207.42 497.72,205 499.71,202.54 501.7,199.87 503.68,196.81 505.67,193.15 507.66,188.94 509.64,184.35 511.63,179.57 513.62,174.76 515.61,170.1 517.59,165.52 519.58,160.77 521.57,156.08 523.55,151.7 525.54,147.86 527.53,144.44 529.52,141.29 531.5,138.33 533.49,135.51 535.48,132.77 537.47,130.1 539.45,127.54 541.44,125.06 543.43,122.64 545.41,120.27 547.4,117.93 549.39,115.6 551.38,113.28 553.36,111 555.35,108.76 557.34,106.54 559.32,104.36 561.31,102.21 563.3,100.1 565.29,97.98 567.27,95.87 569.26,93.81 571.25,91.8 573.23,89.89 575.22,88.09 577.21,86.43 579.2,84.89 581.18,83.42 583.17,82 585.16,80.57 587.15,79.09 589.13,77.53 591.12,75.83 593.11,73.98 595.09,72.05 597.08,70.12 599.07,68.28 601.06,66.59 603.04,65 605.03,63.46 607.02,61.96 609,60.46 610.99,58.94 612.98,57.39 614.97,55.81 616.95,54.26 618.94,52.75 620.93,51.33 622.92,50.02 624.9,48.77 626.89,47.58 628.88,46.41 630.86,45.24 632.85,44.08 634.84,42.94 636.83,41.82 638.81,40.72" fill="none" stroke="#e0694a" stroke-width="1.4" stroke-linejoin="round" stroke-linecap="round"/>
<polyline points="461.95,255.28 462.93,254.88 463.9,254.46 464.88,254.02 465.85,253.58 466.83,253.13 467.8,252.67 468.78,252.19 469.75,251.71 470.73,251.21 471.71,250.71 472.68,250.19 473.66,249.67 474.63,249.13 475.61,248.59 476.58,248.04 477.56,247.47 478.53,246.9 479.51,246.32 480.49,245.73 481.46,245.14 482.44,244.53 483.41,243.92 484.39,243.29 485.36,242.66 486.34,242.03 487.31,241.38 488.29,240.73 489.26,240.07 490.24,239.4 491.22,238.73 492.19,238.05 493.17,237.36 494.14,236.64 495.12,235.89 496.09,235.12 497.07,234.32 498.04,233.49 499.02,232.64 500,231.77 500.97,230.88 501.95,229.96 502.92,229.04 503.9,228.09 504.87,227.13 505.85,226.15 506.82,225.17 507.8,224.17 508.77,223.16 509.75,222.14 510.73,221.12 511.7,220.09 512.68,219.06 513.65,218.02 514.63,216.99 515.6,215.95 516.58,214.92 517.55,213.89 518.53,212.86 519.51,211.84 520.48,210.82 521.46,209.82 522.43,208.82 523.41,207.83 524.38,206.86 525.36,205.9 526.33,204.96 527.31,204.04 528.28,203.13 529.26,202.24 530.24,201.37 531.21,200.53 532.19,199.71 533.16,198.91 534.14,198.14 535.11,197.4 536.09,196.68 537.06,195.98 538.04,195.29 539.02,194.61 539.99,193.96 540.97,193.31 541.94,192.68 542.92,192.05 543.89,191.44 544.87,190.84 545.84,190.25 546.82,189.67 547.79,189.1 548.77,188.53" fill="none" stroke="#e0694a" stroke-width="1.4" stroke-linejoin="round" stroke-linecap="round"/>
<polyline points="549.63,183.17 550.63,182.62 551.63,182.03 552.64,181.4 553.64,180.74 554.64,180.04 555.64,179.31 556.64,178.55 557.65,177.75 558.65,176.93 559.65,176.09 560.65,175.21 561.65,174.31 562.66,173.39 563.66,172.45 564.66,171.49 565.66,170.51 566.66,169.51 567.67,168.49 568.67,167.46 569.67,166.42 570.67,165.36 571.68,164.27 572.68,163.15 573.68,161.99 574.68,160.78 575.68,159.53 576.69,158.23 577.69,156.87 578.69,155.45 579.69,153.95 580.69,152.39 581.7,150.75 582.7,149.03 583.7,147.14 584.7,144.92 585.7,142.47 586.71,139.87 587.71,137.23 588.71,134.62 589.71,132.16 590.71,129.82 591.72,127.52 592.72,125.24 593.72,122.99 594.72,120.74 595.72,118.51 596.73,116.28 597.73,114.06 598.73,111.83 599.73,109.61 600.73,107.39 601.74,105.2 602.74,103.02 603.74,100.87 604.74,98.75 605.75,96.63 606.75,94.53 607.75,92.46 608.75,90.43 609.75,88.44 610.76,86.5 611.76,84.56 612.76,82.65 613.76,80.77 614.76,78.95 615.77,77.2 616.77,75.54 617.77,73.97 618.77,72.49 619.77,71.07 620.78,69.71 621.78,68.38 622.78,67.08 623.78,65.79 624.78,64.51 625.79,63.2 626.79,61.87 627.79,60.49 628.79,59.08 629.79,57.68 630.8,56.29 631.8,54.85 632.8,53.31 633.8,51.65 634.81,49.81 635.81,47.77 636.81,45.56 637.81,43.2 638.81,40.72" fill="none" stroke="#e0694a" stroke-width="1.4" stroke-linejoin="round" stroke-linecap="round"/>
<line x1="420.26" y1="275" x2="420.26" y2="277.2" stroke="#222" stroke-width="1"/>
<text x="407.42" y="292.1" font-size="18.92" textLength="25.46" lengthAdjust="spacingAndGlyphs" fill="#111">−6</text>
<line x1="463.24" y1="275" x2="463.24" y2="277.2" stroke="#222" stroke-width="1"/>
<text x="450.36" y="292.1" font-size="18.94" textLength="25.32" lengthAdjust="spacingAndGlyphs" fill="#111">−4</text>
<line x1="506.22" y1="275" x2="506.22" y2="277.2" stroke="#222" stroke-width="1"/>
<text x="493.76" y="292.1" font-size="18.92" textLength="24.92" lengthAdjust="spacingAndGlyphs" fill="#111">−2</text>
<line x1="549.2" y1="275" x2="549.2" y2="277.2" stroke="#222" stroke-width="1"/>
<text x="543.93" y="292.1" font-size="18.92" textLength="10.47" lengthAdjust="spacingAndGlyphs" fill="#111">0</text>
<line x1="592.18" y1="275" x2="592.18" y2="277.2" stroke="#222" stroke-width="1"/>
<text x="587.16" y="292.1" font-size="18.92" textLength="10.06" lengthAdjust="spacingAndGlyphs" fill="#111">2</text>
<line x1="635.16" y1="275" x2="635.16" y2="277.2" stroke="#222" stroke-width="1"/>
<text x="630.04" y="292.1" font-size="18.94" textLength="10.45" lengthAdjust="spacingAndGlyphs" fill="#111">4</text>
<line x1="678.14" y1="275" x2="678.14" y2="277.2" stroke="#222" stroke-width="1"/>
<text x="672.65" y="292.1" font-size="18.92" textLength="10.81" lengthAdjust="spacingAndGlyphs" fill="#111">6</text>
<line x1="418" y1="29.4" x2="420.2" y2="29.4" stroke="#222" stroke-width="1"/>
<text x="394.23" y="36.02" font-size="18.92" textLength="21.8" lengthAdjust="spacingAndGlyphs" fill="#111">40</text>
<line x1="418" y1="89" x2="420.2" y2="89" stroke="#222" stroke-width="1"/>
<text x="394.09" y="95.62" font-size="18.92" textLength="21.95" lengthAdjust="spacingAndGlyphs" fill="#111">20</text>
<line x1="418" y1="148.6" x2="420.2" y2="148.6" stroke="#222" stroke-width="1"/>
<text x="405.51" y="155.22" font-size="18.92" textLength="10.47" lengthAdjust="spacingAndGlyphs" fill="#111">0</text>
<line x1="418" y1="208.2" x2="420.2" y2="208.2" stroke="#222" stroke-width="1"/>
<text x="379.5" y="214.82" font-size="18.92" textLength="36.59" lengthAdjust="spacingAndGlyphs" fill="#111">−20</text>
<line x1="418" y1="267.8" x2="420.2" y2="267.8" stroke="#222" stroke-width="1"/>
<text x="379.5" y="274.42" font-size="18.92" textLength="36.59" lengthAdjust="spacingAndGlyphs" fill="#111">−40</text>
<line x1="420.2" y1="21.3" x2="420.2" y2="275.9" stroke="#8a8a8a" stroke-width="1.8"/>
<line x1="678" y1="21.3" x2="678" y2="275.9" stroke="#333" stroke-width="1.6"/>
<line x1="419.3" y1="22.2" x2="678.8" y2="22.2" stroke="#6a6a6a" stroke-width="1.8"/>
<line x1="419.3" y1="275" x2="678.8" y2="275" stroke="#7a7a7a" stroke-width="1.8"/>
<text x="454.17" y="311.2" font-size="18.76" textLength="189.27" lengthAdjust="spacingAndGlyphs" fill="#111">Electric field (Mv/cm)</text>
<g transform="translate(372.8,240) rotate(-90)" fill="#111"><text style="white-space:pre" x="-1.57" y="0" font-size="18.76" textLength="172.11" lengthAdjust="spacingAndGlyphs">Polarization (μC/cm</text><text style="white-space:pre" x="171.08" y="-6.4" font-size="13.25" textLength="6.99" lengthAdjust="spacingAndGlyphs">2</text><text style="white-space:pre" x="180.03" y="0" font-size="18.76" textLength="5.02" lengthAdjust="spacingAndGlyphs">)</text></g>
<rect x="427" y="29" width="88" height="109.7" rx="2.5" fill="#fff" fill-opacity="0.85" stroke="#d6d6d6" stroke-width="1"/>
<line x1="430.5" y1="37.8" x2="455.7" y2="37.8" stroke="#f0e4dc" stroke-width="1.5"/>
<text x="465.44" y="42.33" font-size="12.95" textLength="33.86" lengthAdjust="spacingAndGlyphs" fill="#1a1a1a">SHO0</text>
<line x1="430.5" y1="56" x2="455.7" y2="56" stroke="#eac6b2" stroke-width="1.6"/>
<text x="465.44" y="60.53" font-size="12.95" textLength="33.61" lengthAdjust="spacingAndGlyphs" fill="#1a1a1a">SHO2</text>
<line x1="430.5" y1="73.9" x2="455.7" y2="73.9" stroke="#e89c7c" stroke-width="1.8"/>
<text x="465.43" y="78.43" font-size="12.95" textLength="45.4" lengthAdjust="spacingAndGlyphs" fill="#1a1a1a">SHO3.5</text>
<line x1="430.5" y1="91.8" x2="455.7" y2="91.8" stroke="#d0744e" stroke-width="1.9"/>
<text x="465.43" y="96.33" font-size="12.95" textLength="45.4" lengthAdjust="spacingAndGlyphs" fill="#1a1a1a">SHO5.5</text>
<line x1="430.5" y1="109.8" x2="455.7" y2="109.8" stroke="#5cb85c" stroke-width="1.9"/>
<text x="465.43" y="114.33" font-size="12.95" textLength="45.4" lengthAdjust="spacingAndGlyphs" fill="#1a1a1a">SHO7.5</text>
<line x1="430.5" y1="127.7" x2="455.7" y2="127.7" stroke="#e0684a" stroke-width="1.9"/>
<text x="465.43" y="132.23" font-size="12.95" textLength="41.62" lengthAdjust="spacingAndGlyphs" fill="#1a1a1a">SHO10</text>
<line x1="71.7" y1="463.4" x2="333.4" y2="463.4" stroke="#5a887e" stroke-width="1.2" stroke-dasharray="2.6 1.4"/>
<line x1="202.5" y1="335.6" x2="202.5" y2="591.8" stroke="#4a7ca0" stroke-width="1.3" stroke-dasharray="2.6 1.4"/>
<polyline points="105.62,508.24 108.11,506.37 110.6,504.87 113.08,503.44 115.57,502.05 118.06,500.7 120.55,499.36 123.04,498.05 125.53,496.75 128.02,495.46 130.51,494.18 132.99,492.91 135.48,491.65 137.97,490.39 140.46,489.15 142.95,487.91 145.44,486.67 147.93,485.44 150.41,484.22 152.9,483.01 155.39,481.79 157.88,480.59 160.37,479.38 162.86,478.19 165.35,476.99 167.83,475.8 170.32,474.62 172.81,473.44 175.3,472.26 177.79,471.08 180.28,469.91 182.77,468.75 185.25,467.59 187.74,466.43 190.23,465.27 192.72,464.12 195.21,462.97 197.7,461.82 200.19,460.68 202.67,459.54 205.16,458.41 207.65,457.28 210.14,456.15 212.63,455.02 215.12,453.9 217.61,452.78 220.09,451.67 222.58,450.56 225.07,449.45 227.56,448.35 230.05,447.25 232.54,446.15 235.03,445.06 237.51,443.97 240,442.88 242.49,441.8 244.98,440.73 247.47,439.65 249.96,438.58 252.45,437.52 254.93,436.46 257.42,435.41 259.91,434.36 262.4,433.32 264.89,432.28 267.38,431.25 269.87,430.23 272.35,429.21 274.84,428.2 277.33,427.2 279.82,426.21 282.31,425.23 284.8,424.26 287.29,423.31 289.77,422.37 292.26,421.46 294.75,420.57 297.24,419.73 299.73,418.96 302.22,418.56" fill="none" stroke="#dcefea" stroke-width="1.4" stroke-linejoin="round" stroke-linecap="round"/>
<polyline points="105.62,508.24 108.11,507.84 110.6,507.07 113.08,506.23 115.57,505.34 118.06,504.43 120.55,503.49 123.04,502.54 125.53,501.57 128.02,500.59 130.51,499.6 132.99,498.6 135.48,497.59 137.97,496.57 140.46,495.55 142.95,494.52 145.44,493.48 147.93,492.44 150.41,491.39 152.9,490.34 155.39,489.28 157.88,488.22 160.37,487.15 162.86,486.07 165.35,485 167.83,483.92 170.32,482.83 172.81,481.74 175.3,480.65 177.79,479.55 180.28,478.45 182.77,477.35 185.25,476.24 187.74,475.13 190.23,474.02 192.72,472.9 195.21,471.78 197.7,470.65 200.19,469.52 202.67,468.39 205.16,467.26 207.65,466.12 210.14,464.98 212.63,463.83 215.12,462.68 217.61,461.53 220.09,460.37 222.58,459.21 225.07,458.05 227.56,456.89 230.05,455.72 232.54,454.54 235.03,453.36 237.51,452.18 240,451 242.49,449.81 244.98,448.61 247.47,447.42 249.96,446.21 252.45,445.01 254.93,443.79 257.42,442.58 259.91,441.36 262.4,440.13 264.89,438.89 267.38,437.65 269.87,436.41 272.35,435.15 274.84,433.89 277.33,432.62 279.82,431.34 282.31,430.05 284.8,428.75 287.29,427.44 289.77,426.1 292.26,424.75 294.75,423.36 297.24,421.93 299.73,420.43 302.22,418.56" fill="none" stroke="#dcefea" stroke-width="1.4" stroke-linejoin="round" stroke-linecap="round"/>
<polyline points="121.33,512.96 123.4,510.98 125.48,509.37 127.55,507.83 129.63,506.34 131.7,504.88 133.78,503.43 135.85,502.01 137.92,500.6 140,499.2 142.07,497.81 144.15,496.44 146.22,495.07 148.3,493.7 150.37,492.35 152.44,491 154.52,489.66 156.59,488.32 158.67,486.99 160.74,485.67 162.82,484.35 164.89,483.03 166.96,481.72 169.04,480.42 171.11,479.11 173.19,477.82 175.26,476.52 177.34,475.23 179.41,473.95 181.48,472.66 183.56,471.39 185.63,470.11 187.71,468.84 189.78,467.57 191.86,466.31 193.93,465.05 196,463.79 198.08,462.54 200.15,461.29 202.23,460.04 204.3,458.8 206.38,457.56 208.45,456.32 210.52,455.09 212.6,453.86 214.67,452.63 216.75,451.41 218.82,450.19 220.9,448.97 222.97,447.76 225.04,446.55 227.12,445.35 229.19,444.15 231.27,442.95 233.34,441.76 235.42,440.57 237.49,439.38 239.56,438.2 241.64,437.02 243.71,435.85 245.79,434.69 247.86,433.52 249.94,432.37 252.01,431.22 254.08,430.07 256.16,428.93 258.23,427.8 260.31,426.67 262.38,425.56 264.45,424.45 266.53,423.35 268.6,422.26 270.68,421.18 272.75,420.12 274.83,419.08 276.9,418.05 278.97,417.06 281.05,416.11 283.12,415.24 285.2,414.72" fill="none" stroke="#a6dccd" stroke-width="1.4" stroke-linejoin="round" stroke-linecap="round"/>
<polyline points="121.33,512.96 123.4,512.45 125.48,511.58 127.55,510.63 129.63,509.63 131.7,508.61 133.78,507.56 135.85,506.5 137.92,505.43 140,504.34 142.07,503.24 144.15,502.13 146.22,501.01 148.3,499.89 150.37,498.75 152.44,497.61 154.52,496.47 156.59,495.32 158.67,494.16 160.74,493 162.82,491.83 164.89,490.66 166.96,489.48 169.04,488.3 171.11,487.12 173.19,485.93 175.26,484.74 177.34,483.54 179.41,482.34 181.48,481.13 183.56,479.93 185.63,478.71 187.71,477.5 189.78,476.28 191.86,475.05 193.93,473.83 196,472.6 198.08,471.37 200.15,470.13 202.23,468.89 204.3,467.65 206.38,466.4 208.45,465.15 210.52,463.89 212.6,462.64 214.67,461.38 216.75,460.11 218.82,458.84 220.9,457.57 222.97,456.3 225.04,455.02 227.12,453.74 229.19,452.45 231.27,451.16 233.34,449.87 235.42,448.57 237.49,447.27 239.56,445.96 241.64,444.65 243.71,443.34 245.79,442.02 247.86,440.69 249.94,439.36 252.01,438.03 254.08,436.68 256.16,435.34 258.23,433.98 260.31,432.62 262.38,431.25 264.45,429.87 266.53,428.48 268.6,427.09 270.68,425.68 272.75,424.25 274.83,422.81 276.9,421.34 278.97,419.85 281.05,418.31 283.12,416.7 285.2,414.72" fill="none" stroke="#a6dccd" stroke-width="1.4" stroke-linejoin="round" stroke-linecap="round"/>
<polyline points="121.33,518.86 123.4,516.54 125.48,514.68 127.55,512.91 129.63,511.2 131.7,509.53 133.78,507.89 135.85,506.26 137.92,504.66 140,503.07 142.07,501.5 144.15,499.93 146.22,498.38 148.3,496.84 150.37,495.3 152.44,493.78 154.52,492.26 156.59,490.75 158.67,489.25 160.74,487.75 162.82,486.26 164.89,484.78 166.96,483.3 169.04,481.83 171.11,480.36 173.19,478.9 175.26,477.44 177.34,475.99 179.41,474.55 181.48,473.1 183.56,471.67 185.63,470.23 187.71,468.81 189.78,467.38 191.86,465.96 193.93,464.55 196,463.14 198.08,461.73 200.15,460.33 202.23,458.93 204.3,457.54 206.38,456.15 208.45,454.77 210.52,453.39 212.6,452.01 214.67,450.64 216.75,449.28 218.82,447.91 220.9,446.56 222.97,445.2 225.04,443.85 227.12,442.51 229.19,441.17 231.27,439.84 233.34,438.51 235.42,437.18 237.49,435.86 239.56,434.55 241.64,433.24 243.71,431.94 245.79,430.65 247.86,429.36 249.94,428.07 252.01,426.8 254.08,425.53 256.16,424.27 258.23,423.02 260.31,421.77 262.38,420.54 264.45,419.32 266.53,418.11 268.6,416.91 270.68,415.73 272.75,414.57 274.83,413.43 276.9,412.31 278.97,411.24 281.05,410.21 283.12,409.29 285.2,408.82" fill="none" stroke="#7cc8b6" stroke-width="1.4" stroke-linejoin="round" stroke-linecap="round"/>
<polyline points="121.33,518.86 123.4,518.4 125.48,517.47 127.55,516.45 129.63,515.37 131.7,514.26 133.78,513.12 135.85,511.96 137.92,510.77 140,509.58 142.07,508.37 144.15,507.14 146.22,505.91 148.3,504.67 150.37,503.42 152.44,502.16 154.52,500.89 156.59,499.61 158.67,498.33 160.74,497.04 162.82,495.74 164.89,494.44 166.96,493.13 169.04,491.82 171.11,490.5 173.19,489.18 175.26,487.85 177.34,486.51 179.41,485.18 181.48,483.83 183.56,482.48 185.63,481.13 187.71,479.77 189.78,478.41 191.86,477.04 193.93,475.67 196,474.3 198.08,472.92 200.15,471.53 202.23,470.14 204.3,468.75 206.38,467.35 208.45,465.95 210.52,464.55 212.6,463.14 214.67,461.72 216.75,460.3 218.82,458.88 220.9,457.45 222.97,456.02 225.04,454.58 227.12,453.14 229.19,451.69 231.27,450.24 233.34,448.78 235.42,447.32 237.49,445.86 239.56,444.38 241.64,442.91 243.71,441.42 245.79,439.93 247.86,438.44 249.94,436.93 252.01,435.42 254.08,433.91 256.16,432.38 258.23,430.85 260.31,429.3 262.38,427.75 264.45,426.19 266.53,424.61 268.6,423.02 270.68,421.42 272.75,419.8 274.83,418.15 276.9,416.48 278.97,414.77 281.05,413.01 283.12,411.15 285.2,408.82" fill="none" stroke="#7cc8b6" stroke-width="1.4" stroke-linejoin="round" stroke-linecap="round"/>
<polyline points="117.84,558.39 119.77,555.68 121.69,552.98 123.62,550.27 125.55,547.57 127.47,544.86 129.4,542.16 131.33,539.45 133.25,536.74 135.18,534.03 137.11,531.33 139.04,528.62 140.96,525.91 142.89,523.18 144.82,520.44 146.74,517.69 148.67,514.92 150.6,512.16 152.52,509.39 154.45,506.64 156.38,503.9 158.31,501.18 160.23,498.48 162.16,495.8 164.09,493.17 166.01,490.57 167.94,488.01 169.87,485.52 171.8,483.1 173.72,480.72 175.65,478.37 177.58,476.04 179.5,473.71 181.43,471.35 183.36,468.96 185.28,466.51 187.21,464 189.14,461.39 191.07,458.67 192.99,455.88 194.92,453.05 196.85,450.21 198.77,447.39 200.7,444.64 202.63,441.98 204.55,439.41 206.48,436.85 208.41,434.3 210.34,431.77 212.26,429.28 214.19,426.84 216.12,424.45 218.04,422.14 219.97,419.91 221.9,417.77 223.82,415.74 225.75,413.8 227.68,411.91 229.61,410.09 231.53,408.32 233.46,406.6 235.39,404.92 237.31,403.28 239.24,401.67 241.17,400.09 243.1,398.54 245.02,397 246.95,395.48 248.88,393.96 250.8,392.47 252.73,390.99 254.66,389.53 256.58,388.1 258.51,386.7 260.44,385.32 262.37,383.98 264.29,382.67 266.22,381.41 268.15,380.18 270.07,379 272,377.84 273.93,376.71 275.85,375.6 277.78,374.53 279.71,373.48 281.64,372.46 283.56,371.47 285.49,370.52 287.42,369.59 289.34,368.7" fill="none" stroke="#4a958c" stroke-width="1.4" stroke-linejoin="round" stroke-linecap="round"/>
<polyline points="117.84,558.39 118.78,557.79 119.73,557.2 120.68,556.59 121.62,555.99 122.57,555.38 123.52,554.77 124.46,554.15 125.41,553.53 126.36,552.91 127.3,552.29 128.25,551.66 129.19,551.02 130.14,550.39 131.09,549.75 132.03,549.11 132.98,548.46 133.93,547.81 134.87,547.16 135.82,546.5 136.77,545.84 137.71,545.18 138.66,544.51 139.6,543.84 140.55,543.17 141.5,542.49 142.44,541.81 143.39,541.12 144.34,540.43 145.28,539.74 146.23,539.05 147.18,538.35 148.12,537.65 149.07,536.94 150.01,536.23 150.96,535.52 151.91,534.8 152.85,534.08 153.8,533.36 154.75,532.63 155.69,531.91 156.64,531.17 157.59,530.44 158.53,529.7 159.48,528.95 160.42,528.21 161.37,527.46 162.32,526.7 163.26,525.95 164.21,525.19 165.16,524.42 166.1,523.66 167.05,522.89 167.99,522.11 168.94,521.34 169.89,520.56 170.83,519.77 171.78,518.99 172.73,518.2 173.67,517.4 174.62,516.61 175.57,515.81 176.51,515 177.46,514.2 178.4,513.39 179.35,512.57 180.3,511.76 181.24,510.93 182.19,510.11 183.14,509.28 184.08,508.45 185.03,507.62 185.98,506.78 186.92,505.94 187.87,505.1 188.81,504.25 189.76,503.4 190.71,502.54 191.65,501.68 192.6,500.82 193.55,499.96 194.49,499.09 195.44,498.22 196.39,497.34 197.33,496.46 198.28,495.58 199.22,494.69 200.17,493.8 201.12,492.91 202.06,492.01" fill="none" stroke="#4a958c" stroke-width="1.4" stroke-linejoin="round" stroke-linecap="round"/>
<polyline points="202.94,483.75 203.91,483.06 204.88,482.35 205.85,481.63 206.82,480.89 207.79,480.14 208.76,479.38 209.73,478.61 210.7,477.83 211.67,477.03 212.65,476.23 213.62,475.41 214.59,474.59 215.56,473.75 216.53,472.91 217.5,472.06 218.47,471.19 219.44,470.32 220.41,469.43 221.38,468.52 222.35,467.59 223.32,466.65 224.3,465.68 225.27,464.69 226.24,463.68 227.21,462.65 228.18,461.6 229.15,460.54 230.12,459.45 231.09,458.34 232.06,457.2 233.03,456.02 234,454.8 234.98,453.54 235.95,452.22 236.92,450.85 237.89,449.41 238.86,447.85 239.83,446.18 240.8,444.43 241.77,442.6 242.74,440.72 243.71,438.81 244.68,436.83 245.65,434.68 246.63,432.42 247.6,430.11 248.57,427.79 249.54,425.52 250.51,423.36 251.48,421.37 252.45,419.58 253.42,417.89 254.39,416.28 255.36,414.72 256.33,413.22 257.3,411.77 258.28,410.36 259.25,408.98 260.22,407.63 261.19,406.29 262.16,404.96 263.13,403.64 264.1,402.31 265.07,400.97 266.04,399.61 267.01,398.25 267.98,396.9 268.96,395.56 269.93,394.23 270.9,392.91 271.87,391.6 272.84,390.29 273.81,388.99 274.78,387.7 275.75,386.41 276.72,385.12 277.69,383.84 278.66,382.55 279.63,381.27 280.61,379.99 281.58,378.72 282.55,377.45 283.52,376.19 284.49,374.93 285.46,373.68 286.43,372.43 287.4,371.18 288.37,369.94 289.34,368.7" fill="none" stroke="#4a958c" stroke-width="1.4" stroke-linejoin="round" stroke-linecap="round"/>
<polyline points="123.51,566.06 125.33,564.83 127.14,563.42 128.95,561.81 130.77,560.04 132.58,558.1 134.4,556.02 136.21,553.79 138.03,551.43 139.84,548.95 141.65,546.36 143.47,543.67 145.28,540.89 147.1,538.04 148.91,535.11 150.73,532.13 152.54,529.1 154.35,525.84 156.17,522.26 157.98,518.41 159.8,514.31 161.61,510.01 163.43,505.54 165.24,500.95 167.05,496.26 168.87,491.52 170.68,486.31 172.5,480.62 174.31,474.8 176.12,469.22 177.94,464.24 179.75,459.94 181.57,455.91 183.38,452.13 185.2,448.55 187.01,445.16 188.82,441.93 190.64,438.83 192.45,435.92 194.27,433.16 196.08,430.53 197.9,427.97 199.71,425.44 201.52,422.9 203.34,420.29 205.15,417.61 206.97,415.07 208.78,412.88 210.6,410.84 212.41,408.88 214.22,406.99 216.04,405.18 217.85,403.43 219.67,401.75 221.48,400.12 223.3,398.54 225.11,397 226.92,395.5 228.74,394.04 230.55,392.6 232.37,391.19 234.18,389.81 235.99,388.48 237.81,387.18 239.62,385.91 241.44,384.67 243.25,383.46 245.07,382.27 246.88,381.11 248.69,379.97 250.51,378.85 252.32,377.74 254.14,376.65 255.95,375.57 257.77,374.49 259.58,373.44 261.39,372.39 263.21,371.36 265.02,370.34 266.84,369.33 268.65,368.34 270.47,367.36 272.28,366.4 274.09,365.46 275.91,364.53 277.72,363.62 279.54,362.72 281.35,361.85 283.17,360.99 284.98,360.15" fill="none" stroke="#7cc05c" stroke-width="1.3" stroke-linejoin="round" stroke-linecap="round"/>
<polyline points="123.51,566.06 124.39,565.54 125.28,565.03 126.16,564.51 127.04,563.99 127.92,563.47 128.81,562.95 129.69,562.42 130.57,561.9 131.46,561.37 132.34,560.85 133.22,560.32 134.1,559.79 134.99,559.26 135.87,558.73 136.75,558.19 137.63,557.66 138.52,557.13 139.4,556.59 140.28,556.05 141.16,555.51 142.05,554.97 142.93,554.43 143.81,553.89 144.69,553.35 145.58,552.8 146.46,552.26 147.34,551.71 148.22,551.17 149.11,550.62 149.99,550.07 150.87,549.52 151.76,548.97 152.64,548.41 153.52,547.86 154.4,547.3 155.29,546.75 156.17,546.19 157.05,545.63 157.93,545.07 158.82,544.51 159.7,543.95 160.58,543.39 161.46,542.83 162.35,542.26 163.23,541.7 164.11,541.13 164.99,540.56 165.88,539.99 166.76,539.42 167.64,538.85 168.52,538.28 169.41,537.71 170.29,537.13 171.17,536.55 172.05,535.98 172.94,535.4 173.82,534.82 174.7,534.23 175.59,533.65 176.47,533.07 177.35,532.48 178.23,531.9 179.12,531.31 180,530.72 180.88,530.13 181.76,529.54 182.65,528.95 183.53,528.35 184.41,527.76 185.29,527.16 186.18,526.56 187.06,525.96 187.94,525.36 188.82,524.76 189.71,524.16 190.59,523.56 191.47,522.95 192.35,522.35 193.24,521.74 194.12,521.13 195,520.53 195.89,519.92 196.77,519.3 197.65,518.69 198.53,518.08 199.42,517.46 200.3,516.85 201.18,516.23 202.06,515.62" fill="none" stroke="#7cc05c" stroke-width="1.3" stroke-linejoin="round" stroke-linecap="round"/>
<polyline points="202.94,509.12 203.86,508.77 204.78,508.37 205.7,507.9 206.62,507.39 207.55,506.83 208.47,506.22 209.39,505.57 210.31,504.88 211.23,504.15 212.15,503.38 213.08,502.58 214,501.75 214.92,500.9 215.84,500.02 216.76,499.11 217.69,498.19 218.61,497.25 219.53,496.3 220.45,495.32 221.37,494.26 222.29,493.12 223.22,491.9 224.14,490.61 225.06,489.25 225.98,487.84 226.9,486.37 227.83,484.86 228.75,483.31 229.67,481.72 230.59,480.11 231.51,478.48 232.44,476.81 233.36,475.09 234.28,473.29 235.2,471.39 236.12,469.36 237.04,467.19 237.97,464.85 238.89,462.29 239.81,459.31 240.73,455.95 241.65,452.32 242.58,448.53 243.5,444.67 244.42,440.77 245.34,436.53 246.26,432.22 247.18,428.19 248.11,424.41 249.03,420.62 249.95,416.92 250.87,413.42 251.79,410.24 252.72,407.46 253.64,405.19 254.56,403.18 255.48,401.32 256.4,399.6 257.32,397.99 258.25,396.49 259.17,395.07 260.09,393.72 261.01,392.42 261.93,391.15 262.86,389.9 263.78,388.65 264.7,387.37 265.62,386.07 266.54,384.72 267.46,383.37 268.39,382.04 269.31,380.72 270.23,379.4 271.15,378.1 272.07,376.81 273,375.53 273.92,374.26 274.84,373.01 275.76,371.77 276.68,370.54 277.6,369.32 278.53,368.12 279.45,366.94 280.37,365.77 281.29,364.61 282.21,363.47 283.14,362.35 284.06,361.24 284.98,360.15" fill="none" stroke="#7cc05c" stroke-width="1.3" stroke-linejoin="round" stroke-linecap="round"/>
<polyline points="114.13,579.63 116.14,577.14 118.14,574.6 120.15,572.02 122.16,569.39 124.17,566.73 126.18,564.02 128.18,561.28 130.19,558.5 132.2,555.68 134.21,552.82 136.22,549.93 138.22,547.01 140.23,544.05 142.24,541.1 144.25,538.16 146.26,535.21 148.26,532.24 150.27,529.22 152.28,526.14 154.29,522.96 156.3,519.68 158.3,516.25 160.31,512.68 162.32,508.93 164.33,504.96 166.34,500.36 168.34,495.13 170.35,489.5 172.36,483.72 174.37,478.03 176.37,472.67 178.38,467.88 180.39,463.89 182.4,460.68 184.41,457.82 186.41,455.25 188.42,452.9 190.43,450.71 192.44,448.59 194.45,446.49 196.45,444.34 198.46,442.06 200.47,439.6 202.48,436.88 204.49,433.65 206.49,430.21 208.5,427.27 210.51,424.78 212.52,422.49 214.53,420.36 216.53,418.32 218.54,416.31 220.55,414.26 222.56,412.13 224.57,409.85 226.57,407.46 228.58,405.01 230.59,402.52 232.6,400.03 234.6,397.57 236.61,395.16 238.62,392.85 240.63,390.64 242.64,388.48 244.64,386.36 246.65,384.29 248.66,382.25 250.67,380.26 252.68,378.31 254.68,376.4 256.69,374.53 258.7,372.7 260.71,370.89 262.72,369.1 264.72,367.35 266.73,365.64 268.74,363.97 270.75,362.35 272.76,360.78 274.76,359.26 276.77,357.8 278.78,356.37 280.79,354.98 282.8,353.62 284.8,352.3 286.81,351.03 288.82,349.8 290.83,348.61 292.83,347.46" fill="none" stroke="#2e9584" stroke-width="1.5" stroke-linejoin="round" stroke-linecap="round"/>
<polyline points="114.13,579.63 115.12,579.22 116.11,578.79 117.09,578.35 118.08,577.9 119.07,577.44 120.06,576.96 121.05,576.47 122.03,575.97 123.02,575.46 124.01,574.94 125,574.41 125.99,573.86 126.97,573.31 127.96,572.74 128.95,572.17 129.94,571.58 130.93,570.99 131.91,570.38 132.9,569.77 133.89,569.14 134.88,568.51 135.87,567.87 136.85,567.22 137.84,566.56 138.83,565.9 139.82,565.22 140.81,564.54 141.79,563.84 142.78,563.12 143.77,562.39 144.76,561.64 145.75,560.88 146.73,560.11 147.72,559.31 148.71,558.51 149.7,557.69 150.69,556.85 151.67,556.01 152.66,555.15 153.65,554.28 154.64,553.39 155.63,552.5 156.61,551.59 157.6,550.67 158.59,549.74 159.58,548.8 160.57,547.85 161.55,546.9 162.54,545.93 163.53,544.95 164.52,543.97 165.51,542.97 166.49,541.97 167.48,540.96 168.47,539.95 169.46,538.92 170.45,537.89 171.43,536.86 172.42,535.82 173.41,534.77 174.4,533.72 175.39,532.66 176.37,531.6 177.36,530.52 178.35,529.43 179.34,528.32 180.33,527.19 181.31,526.05 182.3,524.89 183.29,523.72 184.28,522.53 185.27,521.33 186.26,520.12 187.24,518.89 188.23,517.65 189.22,516.39 190.21,515.12 191.2,513.85 192.18,512.55 193.17,511.25 194.16,509.94 195.15,508.62 196.14,507.28 197.12,505.94 198.11,504.59 199.1,503.23 200.09,501.86 201.08,500.48 202.06,499.09" fill="none" stroke="#2e9584" stroke-width="1.5" stroke-linejoin="round" stroke-linecap="round"/>
<polyline points="202.94,492.9 203.95,491.9 204.96,490.89 205.97,489.87 206.98,488.83 207.99,487.79 209,486.74 210.01,485.68 211.02,484.6 212.03,483.52 213.04,482.43 214.05,481.33 215.06,480.22 216.07,479.1 217.08,477.97 218.09,476.84 219.1,475.7 220.11,474.54 221.12,473.38 222.13,472.21 223.14,471.03 224.15,469.83 225.16,468.61 226.17,467.38 227.18,466.13 228.19,464.87 229.2,463.58 230.21,462.28 231.22,460.99 232.23,459.7 233.24,458.4 234.25,457.09 235.26,455.77 236.27,454.43 237.28,453.06 238.29,451.67 239.3,450.24 240.31,448.77 241.32,447.27 242.33,445.71 243.34,444.1 244.35,442.43 245.36,440.7 246.37,438.86 247.38,436.83 248.39,434.62 249.4,432.28 250.41,429.85 251.42,427.38 252.43,424.91 253.44,422.49 254.45,420.14 255.46,417.93 256.47,415.88 257.48,414 258.49,412.21 259.5,410.5 260.51,408.86 261.52,407.26 262.53,405.69 263.54,404.14 264.55,402.59 265.56,401.03 266.57,399.45 267.58,397.82 268.59,396.13 269.6,394.37 270.61,392.58 271.62,390.76 272.63,388.91 273.64,387.04 274.65,385.15 275.66,383.23 276.67,381.3 277.68,379.34 278.69,377.36 279.7,375.37 280.71,373.35 281.72,371.33 282.73,369.27 283.74,367.2 284.75,365.1 285.76,362.97 286.77,360.82 287.78,358.65 288.79,356.46 289.8,354.24 290.81,352 291.82,349.74 292.83,347.47" fill="none" stroke="#2e9584" stroke-width="1.5" stroke-linejoin="round" stroke-linecap="round"/>
<line x1="71.58" y1="591.8" x2="71.58" y2="594" stroke="#222" stroke-width="1"/>
<text x="58.6" y="609.4" font-size="19.13" textLength="25.75" lengthAdjust="spacingAndGlyphs" fill="#111">−6</text>
<line x1="115.22" y1="591.8" x2="115.22" y2="594" stroke="#222" stroke-width="1"/>
<text x="102.2" y="609.4" font-size="19.15" textLength="25.6" lengthAdjust="spacingAndGlyphs" fill="#111">−4</text>
<line x1="158.86" y1="591.8" x2="158.86" y2="594" stroke="#222" stroke-width="1"/>
<text x="146.26" y="609.4" font-size="19.13" textLength="25.2" lengthAdjust="spacingAndGlyphs" fill="#111">−2</text>
<line x1="202.5" y1="591.8" x2="202.5" y2="594" stroke="#222" stroke-width="1"/>
<text x="197.17" y="609.4" font-size="19.13" textLength="10.59" lengthAdjust="spacingAndGlyphs" fill="#111">0</text>
<line x1="246.14" y1="591.8" x2="246.14" y2="594" stroke="#222" stroke-width="1"/>
<text x="241.06" y="609.4" font-size="19.13" textLength="10.18" lengthAdjust="spacingAndGlyphs" fill="#111">2</text>
<line x1="289.78" y1="591.8" x2="289.78" y2="594" stroke="#222" stroke-width="1"/>
<text x="284.6" y="609.4" font-size="19.15" textLength="10.57" lengthAdjust="spacingAndGlyphs" fill="#111">4</text>
<line x1="333.42" y1="591.8" x2="333.42" y2="594" stroke="#222" stroke-width="1"/>
<text x="327.87" y="609.4" font-size="19.13" textLength="10.93" lengthAdjust="spacingAndGlyphs" fill="#111">6</text>
<line x1="69.5" y1="345.4" x2="71.7" y2="345.4" stroke="#222" stroke-width="1"/>
<text x="45.7" y="352.1" font-size="19.13" textLength="22.04" lengthAdjust="spacingAndGlyphs" fill="#111">40</text>
<line x1="69.5" y1="404.4" x2="71.7" y2="404.4" stroke="#222" stroke-width="1"/>
<text x="45.55" y="411.1" font-size="19.13" textLength="22.2" lengthAdjust="spacingAndGlyphs" fill="#111">20</text>
<line x1="69.5" y1="463.4" x2="71.7" y2="463.4" stroke="#222" stroke-width="1"/>
<text x="57.1" y="470.1" font-size="19.13" textLength="10.59" lengthAdjust="spacingAndGlyphs" fill="#111">0</text>
<line x1="69.5" y1="522.4" x2="71.7" y2="522.4" stroke="#222" stroke-width="1"/>
<text x="30.8" y="529.1" font-size="19.13" textLength="37" lengthAdjust="spacingAndGlyphs" fill="#111">−20</text>
<line x1="69.5" y1="581.4" x2="71.7" y2="581.4" stroke="#222" stroke-width="1"/>
<text x="30.8" y="588.1" font-size="19.13" textLength="37" lengthAdjust="spacingAndGlyphs" fill="#111">−40</text>
<line x1="71.7" y1="334.85" x2="71.7" y2="592.6" stroke="#222" stroke-width="1.5"/>
<line x1="333.4" y1="334.85" x2="333.4" y2="592.6" stroke="#222" stroke-width="1.5"/>
<line x1="70.95" y1="335.6" x2="334.15" y2="335.6" stroke="#222" stroke-width="1.5"/>
<line x1="70.95" y1="591.8" x2="334.15" y2="591.8" stroke="#444" stroke-width="1.6"/>
<text x="106.85" y="629" font-size="18.97" textLength="191.38" lengthAdjust="spacingAndGlyphs" fill="#111">Electric field (Mv/cm)</text>
<g transform="translate(23.6,556.6) rotate(-90)" fill="#111"><text style="white-space:pre" x="-1.6" y="0" font-size="18.97" textLength="175.11" lengthAdjust="spacingAndGlyphs">Polarization (μC/cm</text><text style="white-space:pre" x="174.05" y="-6.4" font-size="13.39" textLength="7.11" lengthAdjust="spacingAndGlyphs">2</text><text style="white-space:pre" x="183.16" y="0" font-size="18.97" textLength="5.11" lengthAdjust="spacingAndGlyphs">)</text></g>
<rect x="79" y="342" width="90" height="112.2" rx="2.5" fill="#fff" fill-opacity="0.85" stroke="#d6d6d6" stroke-width="1"/>
<line x1="82.4" y1="351.6" x2="107.8" y2="351.6" stroke="#ddeeed" stroke-width="1.5"/>
<text x="116.99" y="356.23" font-size="13.21" textLength="34.5" lengthAdjust="spacingAndGlyphs" fill="#1a1a1a">EHO0</text>
<line x1="82.4" y1="369.6" x2="107.8" y2="369.6" stroke="#a4dacc" stroke-width="1.6"/>
<text x="116.99" y="374.23" font-size="13.21" textLength="34.24" lengthAdjust="spacingAndGlyphs" fill="#1a1a1a">EHO2</text>
<line x1="82.4" y1="387.8" x2="107.8" y2="387.8" stroke="#78c6b4" stroke-width="1.8"/>
<text x="116.96" y="392.43" font-size="13.21" textLength="46.28" lengthAdjust="spacingAndGlyphs" fill="#1a1a1a">EHO3.5</text>
<line x1="82.4" y1="406.1" x2="107.8" y2="406.1" stroke="#4a958c" stroke-width="1.8"/>
<text x="116.96" y="410.73" font-size="13.21" textLength="46.28" lengthAdjust="spacingAndGlyphs" fill="#1a1a1a">EHO5.5</text>
<line x1="82.4" y1="424.2" x2="107.8" y2="424.2" stroke="#74bc50" stroke-width="1.9"/>
<text x="116.96" y="428.82" font-size="13.21" textLength="46.28" lengthAdjust="spacingAndGlyphs" fill="#1a1a1a">EHO7.5</text>
<line x1="82.4" y1="442.5" x2="107.8" y2="442.5" stroke="#2e9484" stroke-width="1.8"/>
<text x="116.97" y="447.12" font-size="13.21" textLength="42.42" lengthAdjust="spacingAndGlyphs" fill="#1a1a1a">EHO10</text>
<rect x="335.2" y="592.5" width="20" height="25" fill="#fff"/>
<polyline points="399.4,573.19 453,559.17 493.2,559.17 546.8,409.6 600.4,346.5 667.4,410.38" fill="none" stroke="#de6060" stroke-width="1.5"/>
<circle cx="399.4" cy="573.19" r="4.6" fill="#de6060"/>
<circle cx="453" cy="559.17" r="4.6" fill="#de6060"/>
<circle cx="493.2" cy="559.17" r="4.6" fill="#de6060"/>
<circle cx="546.8" cy="409.6" r="4.6" fill="#de6060"/>
<circle cx="600.4" cy="346.5" r="4.6" fill="#de6060"/>
<circle cx="667.4" cy="410.38" r="4.6" fill="#de6060"/>
<polyline points="399.4,573.19 453,539.69 493.2,545.15 546.8,447.77 600.4,397.14 667.4,446.21" fill="none" stroke="#7aa8d0" stroke-width="1.5"/>
<polygon points="399.4,566.29 403.4,573.19 399.4,580.09 395.4,573.19" fill="#7aa8d0"/>
<polygon points="453,532.79 457,539.69 453,546.59 449,539.69" fill="#7aa8d0"/>
<polygon points="493.2,538.25 497.2,545.15 493.2,552.05 489.2,545.15" fill="#7aa8d0"/>
<polygon points="546.8,440.87 550.8,447.77 546.8,454.67 542.8,447.77" fill="#7aa8d0"/>
<polygon points="600.4,390.24 604.4,397.14 600.4,404.04 596.4,397.14" fill="#7aa8d0"/>
<polygon points="667.4,439.31 671.4,446.21 667.4,453.11 663.4,446.21" fill="#7aa8d0"/>
<polyline points="399.4,573.19 453,577.47 493.2,580.51 546.8,457.12 600.4,357.41 667.4,448.55" fill="none" stroke="#5cbe5c" stroke-width="1.5"/>
<polygon points="403.56,575.59 399.4,577.99 395.24,575.59 395.24,570.79 399.4,568.39 403.56,570.79" fill="#5cbe5c"/>
<polygon points="457.16,579.87 453,582.27 448.84,579.87 448.84,575.07 453,572.67 457.16,575.07" fill="#5cbe5c"/>
<polygon points="497.36,582.91 493.2,585.31 489.04,582.91 489.04,578.11 493.2,575.71 497.36,578.11" fill="#5cbe5c"/>
<polygon points="550.96,459.52 546.8,461.92 542.64,459.52 542.64,454.72 546.8,452.32 550.96,454.72" fill="#5cbe5c"/>
<polygon points="604.56,359.81 600.4,362.21 596.24,359.81 596.24,355.01 600.4,352.61 604.56,355.01" fill="#5cbe5c"/>
<polygon points="671.56,450.95 667.4,453.35 663.24,450.95 663.24,446.15 667.4,443.75 671.56,446.15" fill="#5cbe5c"/>
<line x1="600.4" y1="334.6" x2="600.4" y2="591.8" stroke="#1d5f78" stroke-width="1.3" stroke-dasharray="4.1 1.9"/>
<line x1="399.4" y1="591.8" x2="399.4" y2="594.8" stroke="#111" stroke-width="1"/>
<text x="386.39" y="611.3" font-size="17.76" textLength="25.93" lengthAdjust="spacingAndGlyphs" fill="#111">0.0</text>
<line x1="466.4" y1="591.8" x2="466.4" y2="594.8" stroke="#111" stroke-width="1"/>
<text x="453.61" y="611.3" font-size="17.76" textLength="25.68" lengthAdjust="spacingAndGlyphs" fill="#111">0.1</text>
<line x1="533.4" y1="591.8" x2="533.4" y2="594.8" stroke="#111" stroke-width="1"/>
<text x="520.69" y="611.3" font-size="17.76" textLength="25.6" lengthAdjust="spacingAndGlyphs" fill="#111">0.2</text>
<line x1="600.4" y1="591.8" x2="600.4" y2="594.8" stroke="#111" stroke-width="1"/>
<text x="587.52" y="611.3" font-size="17.76" textLength="25.76" lengthAdjust="spacingAndGlyphs" fill="#111">0.3</text>
<line x1="667.4" y1="591.8" x2="667.4" y2="594.8" stroke="#111" stroke-width="1"/>
<text x="654.3" y="611.3" font-size="17.76" textLength="26.01" lengthAdjust="spacingAndGlyphs" fill="#111">0.4</text>
<line x1="382.9" y1="565.4" x2="385.9" y2="565.4" stroke="#111" stroke-width="1"/>
<text x="370.25" y="571.62" font-size="17.77" textLength="9.34" lengthAdjust="spacingAndGlyphs" fill="#111">5</text>
<line x1="382.9" y1="526.45" x2="385.9" y2="526.45" stroke="#111" stroke-width="1"/>
<text x="359.12" y="532.67" font-size="17.76" textLength="20.46" lengthAdjust="spacingAndGlyphs" fill="#111">10</text>
<line x1="382.9" y1="487.5" x2="385.9" y2="487.5" stroke="#111" stroke-width="1"/>
<text x="359.48" y="493.72" font-size="17.77" textLength="20.19" lengthAdjust="spacingAndGlyphs" fill="#111">15</text>
<line x1="382.9" y1="448.55" x2="385.9" y2="448.55" stroke="#111" stroke-width="1"/>
<text x="358.99" y="454.77" font-size="17.76" textLength="20.6" lengthAdjust="spacingAndGlyphs" fill="#111">20</text>
<line x1="382.9" y1="409.6" x2="385.9" y2="409.6" stroke="#111" stroke-width="1"/>
<text x="359.34" y="415.82" font-size="17.76" textLength="20.34" lengthAdjust="spacingAndGlyphs" fill="#111">25</text>
<line x1="382.9" y1="370.65" x2="385.9" y2="370.65" stroke="#111" stroke-width="1"/>
<text x="359.18" y="376.87" font-size="17.76" textLength="20.4" lengthAdjust="spacingAndGlyphs" fill="#111">30</text>
<rect x="385.9" y="334.6" width="295.1" height="257.2" fill="none" stroke="#111" stroke-width="1.7"/>
<text x="402.86" y="629.6" font-size="17.82" textLength="259.62" lengthAdjust="spacingAndGlyphs" fill="#111">Hole doping concentration (%)</text>
<rect x="393" y="341.8" width="71.8" height="64.9" rx="2.5" fill="#fff" fill-opacity="0.85" stroke="#d6d6d6" stroke-width="1"/>
<line x1="397.3" y1="352.7" x2="427" y2="352.7" stroke="#de6060" stroke-width="1.5"/>
<circle cx="412.2" cy="352.7" r="4.6" fill="#de6060"/>
<text x="437.21" y="358.06" font-size="15.33" textLength="22.85" lengthAdjust="spacingAndGlyphs" fill="#111">Sm</text>
<line x1="397.3" y1="372.9" x2="427" y2="372.9" stroke="#7aa8d0" stroke-width="1.5"/>
<polygon points="412.2,366 416.2,372.9 412.2,379.8 408.2,372.9" fill="#7aa8d0"/>
<text x="436.8" y="378.19" font-size="15.34" textLength="15.27" lengthAdjust="spacingAndGlyphs" fill="#111">La</text>
<line x1="397.3" y1="393.3" x2="427" y2="393.3" stroke="#5cbe5c" stroke-width="1.5"/>
<polygon points="416.36,395.7 412.2,398.1 408.04,395.7 408.04,390.9 412.2,388.5 416.36,390.9" fill="#5cbe5c"/>
<text x="436.74" y="398.59" font-size="15.34" textLength="17.74" lengthAdjust="spacingAndGlyphs" fill="#111">Eu</text>
<g transform="translate(351.2,515) rotate(-90)" fill="#111"><text style="white-space:pre" x="-0.87" y="0" font-size="17.76" textLength="21.18" lengthAdjust="spacingAndGlyphs">2P</text><text style="white-space:pre;font-style:italic" x="20.07" y="2" font-size="12.2" textLength="5.12" lengthAdjust="spacingAndGlyphs">r</text><text style="white-space:pre" x="25.48" y="0" font-size="17.61" textLength="66.24" lengthAdjust="spacingAndGlyphs"> (μC/cm</text><text style="white-space:pre" x="92.21" y="-6" font-size="12.43" textLength="6.76" lengthAdjust="spacingAndGlyphs">2</text><text style="white-space:pre" x="100.87" y="0" font-size="17.61" textLength="4.85" lengthAdjust="spacingAndGlyphs">)</text></g>
<text x="-1.12" y="17.6" font-size="19.19" textLength="10.04" lengthAdjust="spacingAndGlyphs" fill="#111">a</text>
<text x="350.05" y="17.7" font-size="18.45" textLength="10.66" lengthAdjust="spacingAndGlyphs" fill="#111">b</text>
<text x="-1.12" y="328.4" font-size="19.19" textLength="10.23" lengthAdjust="spacingAndGlyphs" fill="#111">c</text>
<text x="356.42" y="328.6" font-size="18.66" textLength="10.78" lengthAdjust="spacingAndGlyphs" fill="#111">d</text>
</svg>
</body></html>
